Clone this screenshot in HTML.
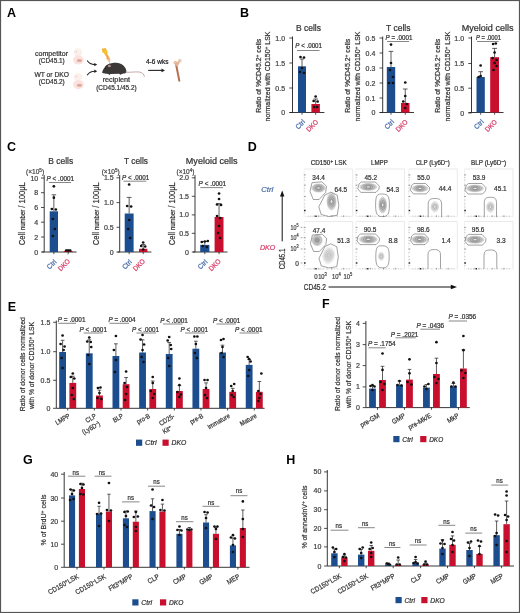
<!DOCTYPE html><html><head><meta charset="utf-8"><style>html,body{margin:0;padding:0;background:#fff;width:520px;height:613px;overflow:hidden}svg{display:block;font-family:"Liberation Sans",sans-serif;will-change:transform;filter:blur(0.3px)}</style></head><body><svg width="520" height="613" viewBox="0 0 520 613" font-family="&quot;Liberation Sans&quot;, sans-serif" fill="#333">
<rect x="0.00" y="0.00" width="520.00" height="613.00" fill="#fff"/>
<text x="7.00" y="17.40" font-size="12.5" font-weight="bold" fill="#000">A</text>
<text x="240.00" y="17.20" font-size="12.5" font-weight="bold" fill="#000">B</text>
<text x="7.00" y="150.80" font-size="12.5" font-weight="bold" fill="#000">C</text>
<text x="247.80" y="150.80" font-size="12.5" font-weight="bold" fill="#000">D</text>
<text x="7.70" y="311.10" font-size="12.5" font-weight="bold" fill="#000">E</text>
<text x="321.90" y="308.30" font-size="12.5" font-weight="bold" fill="#000">F</text>
<text x="23.00" y="463.80" font-size="12.5" font-weight="bold" fill="#000">G</text>
<text x="286.30" y="463.80" font-size="12.5" font-weight="bold" fill="#000">H</text>
<text x="51.50" y="56.40" font-size="7" text-anchor="middle" textLength="33.00" lengthAdjust="spacingAndGlyphs" stroke="#333" stroke-width="0.22">competitor</text>
<text x="51.70" y="63.20" font-size="7" text-anchor="middle" textLength="26.00" lengthAdjust="spacingAndGlyphs" stroke="#333" stroke-width="0.22">(CD45.1)</text>
<text x="51.70" y="77.40" font-size="7" text-anchor="middle" textLength="34.60" lengthAdjust="spacingAndGlyphs" stroke="#333" stroke-width="0.22">WT or DKO</text>
<text x="51.70" y="84.40" font-size="7" text-anchor="middle" textLength="26.00" lengthAdjust="spacingAndGlyphs" stroke="#333" stroke-width="0.22">(CD45.2)</text>
<text x="116.40" y="82.30" font-size="7" text-anchor="middle" textLength="27.50" lengthAdjust="spacingAndGlyphs" stroke="#333" stroke-width="0.22">recipient</text>
<text x="116.40" y="89.80" font-size="7" text-anchor="middle" textLength="40.50" lengthAdjust="spacingAndGlyphs" stroke="#333" stroke-width="0.22">(CD45.1/45.2)</text>
<text x="157.20" y="64.40" font-size="7" text-anchor="middle" textLength="22.40" lengthAdjust="spacingAndGlyphs" fill="#222" stroke="#222" stroke-width="0.22">4-6 wks</text>
<ellipse cx="77.8" cy="52.30" rx="4.4" ry="4.0" fill="#fcf0ec"/>
<ellipse cx="78.4" cy="59.90" rx="5.3" ry="4.6" fill="#fbe2de"/>
<ellipse cx="79.4" cy="60.60" rx="2.7" ry="1.5" fill="#e4a6a0"/>
<circle cx="76.3" cy="51.80" r="0.6" fill="#c9b8b4"/>
<ellipse cx="77.8" cy="77.00" rx="4.4" ry="4.0" fill="#fcf0ec"/>
<ellipse cx="78.4" cy="84.60" rx="5.3" ry="4.6" fill="#fbe2de"/>
<ellipse cx="79.4" cy="85.30" rx="2.7" ry="1.5" fill="#e4a6a0"/>
<circle cx="76.3" cy="76.50" r="0.6" fill="#c9b8b4"/>
<path d="M87.2 60.6 Q89.5 64.6 95.0 64.6" fill="none" stroke="#222" stroke-width="1.1"/>
<path d="M97.2 64.6 L94.3 62.9 L94.3 66.3 Z" fill="#222"/>
<path d="M87.2 75.2 Q89.5 71.2 95.0 71.2" fill="none" stroke="#222" stroke-width="1.1"/>
<path d="M97.2 71.2 L94.3 69.5 L94.3 72.9 Z" fill="#222"/>
<defs><linearGradient id="lg" x1="0" y1="0" x2="0.3" y2="1"><stop offset="0" stop-color="#f2a43a"/><stop offset="0.35" stop-color="#f7c52a"/><stop offset="0.7" stop-color="#f3a33a"/><stop offset="1" stop-color="#f4c0a8"/></linearGradient></defs>
<path d="M101.7 48.7 L105.7 48.0 L108.1 53.1 L107.0 53.6 L110.4 59.3 L109.9 63.5 L105.9 58.1 L106.9 57.6 L103.5 52.7 L102.7 53.0 Z" fill="url(#lg)"/>
<path d="M102.0 72.6 C102.8 70.0 103.6 68.5 104.6 67.4 C105.4 65.8 106.6 64.6 108.2 64.2 C110.0 63.4 112.5 62.8 116.5 62.8 C120.5 62.8 123.5 65.0 125.2 67.8 C126.3 69.6 126.6 71.4 126.2 72.6 C125.6 73.6 124.0 73.7 122.5 73.7 L120.2 74.8 L119.2 73.8 L110.5 73.9 L109.4 74.9 L108.3 73.9 C106.0 73.9 103.5 73.7 102.0 72.6 Z" fill="#3d3838"/>
<ellipse cx="109.4" cy="66.0" rx="1.4" ry="1.3" fill="#b89494"/>
<circle cx="105.6" cy="68.6" r="0.5" fill="#111"/>
<path d="M125.9 72.2 C130 72.6 134 71.6 139.2 72.0 C142.4 72.4 144.2 74.4 144.4 76.9" fill="none" stroke="#b99394" stroke-width="0.8"/>
<line x1="148.20" y1="70.40" x2="162.00" y2="70.40" stroke="#222" stroke-width="1.1"/>
<path d="M165.0 70.4 L161.5 68.6 L161.5 72.2 Z" fill="#222"/>
<path d="M176.0 64.0 L179.3 80.8" stroke="#b8704f" stroke-width="2.0" stroke-linecap="round"/>
<circle cx="175.3" cy="62.6" r="1.9" fill="#e9c7ab"/>
<circle cx="179.8" cy="60.6" r="1.9" fill="#edd0b6"/>
<path d="M174.5 63 L180.5 60.5 L178 66 L176 66 Z" fill="#dfb596"/>
<line x1="292.50" y1="36.50" x2="292.50" y2="112.50" stroke="#222" stroke-width="0.9"/>
<line x1="289.30" y1="38.00" x2="292.50" y2="38.00" stroke="#222" stroke-width="0.8"/>
<text x="285.10" y="40.52" font-size="7" text-anchor="end" fill="#444" stroke="#444" stroke-width="0.22">1.0</text>
<line x1="289.30" y1="63.00" x2="292.50" y2="63.00" stroke="#222" stroke-width="0.8"/>
<text x="285.10" y="65.52" font-size="7" text-anchor="end" fill="#444" stroke="#444" stroke-width="0.22">1.5</text>
<line x1="289.30" y1="88.00" x2="292.50" y2="88.00" stroke="#222" stroke-width="0.8"/>
<text x="285.10" y="90.52" font-size="7" text-anchor="end" fill="#444" stroke="#444" stroke-width="0.22">0.5</text>
<line x1="289.30" y1="112.50" x2="292.50" y2="112.50" stroke="#222" stroke-width="0.8"/>
<text x="285.10" y="115.02" font-size="7" text-anchor="end" fill="#444" stroke="#444" stroke-width="0.22">0</text>
<line x1="289.50" y1="112.50" x2="324.40" y2="112.50" stroke="#222" stroke-width="0.9"/>
<line x1="302.00" y1="112.50" x2="302.00" y2="114.70" stroke="#222" stroke-width="0.8"/>
<line x1="315.65" y1="112.50" x2="315.65" y2="114.70" stroke="#222" stroke-width="0.8"/>
<rect x="298.00" y="66.30" width="8.00" height="46.20" fill="#1c4d8e"/>
<line x1="302.00" y1="66.30" x2="302.00" y2="59.00" stroke="#2a2a2a" stroke-width="0.75"/>
<line x1="299.80" y1="59.00" x2="304.20" y2="59.00" stroke="#2a2a2a" stroke-width="0.75"/>
<circle cx="300.50" cy="57.00" r="1.35" fill="#111"/>
<circle cx="304.00" cy="57.50" r="1.35" fill="#111"/>
<circle cx="302.00" cy="68.00" r="1.35" fill="#111"/>
<circle cx="300.00" cy="72.00" r="1.35" fill="#111"/>
<circle cx="304.00" cy="73.00" r="1.35" fill="#111"/>
<rect x="311.40" y="104.00" width="8.50" height="8.50" fill="#c8102e"/>
<line x1="315.65" y1="104.00" x2="315.65" y2="99.00" stroke="#2a2a2a" stroke-width="0.75"/>
<line x1="313.31" y1="99.00" x2="317.99" y2="99.00" stroke="#2a2a2a" stroke-width="0.75"/>
<circle cx="315.65" cy="96.50" r="1.35" fill="#111"/>
<circle cx="313.65" cy="101.00" r="1.35" fill="#111"/>
<circle cx="317.65" cy="101.50" r="1.35" fill="#111"/>
<circle cx="314.15" cy="107.00" r="1.35" fill="#111"/>
<circle cx="317.15" cy="107.00" r="1.35" fill="#111"/>
<line x1="297.00" y1="50.50" x2="319.50" y2="50.50" stroke="#555" stroke-width="0.7"/>
<text x="295.30" y="48.30" font-size="6.3" textLength="26.70" lengthAdjust="spacingAndGlyphs" stroke="#333" stroke-width="0.22"><tspan font-style="italic">P</tspan> &lt; .0001</text>
<text x="308.50" y="30.90" font-size="8.5" text-anchor="middle" textLength="25.00" lengthAdjust="spacingAndGlyphs" stroke="#333" stroke-width="0.22">B cells</text>
<text x="261.40" y="75.80" font-size="7.8" text-anchor="middle" textLength="74.00" lengthAdjust="spacingAndGlyphs" stroke="#333" stroke-width="0.22" transform="rotate(-90 261.40 75.80)">Ratio of %CD45.2<tspan font-size="70%" baseline-shift="2.4">+</tspan> cells</text>
<text x="270.40" y="76.50" font-size="7.8" text-anchor="middle" textLength="90.00" lengthAdjust="spacingAndGlyphs" stroke="#333" stroke-width="0.22" transform="rotate(-90 270.40 76.50)">normalized with CD150<tspan font-size="70%" baseline-shift="2.4">+</tspan> LSK</text>
<text x="305.60" y="122.30" font-size="7" text-anchor="end" textLength="10.50" lengthAdjust="spacingAndGlyphs" fill="#4a6eaa" stroke="#4a6eaa" stroke-width="0.22" transform="rotate(-45 305.60 122.30)">Ctrl</text>
<text x="318.65" y="122.60" font-size="7" text-anchor="end" textLength="13.80" lengthAdjust="spacingAndGlyphs" fill="#d6426a" stroke="#d6426a" stroke-width="0.22" transform="rotate(-45 318.65 122.60)">DKO</text>
<line x1="382.70" y1="36.50" x2="382.70" y2="112.50" stroke="#222" stroke-width="0.9"/>
<line x1="379.50" y1="38.00" x2="382.70" y2="38.00" stroke="#222" stroke-width="0.8"/>
<text x="375.30" y="40.52" font-size="7" text-anchor="end" fill="#444" stroke="#444" stroke-width="0.22">0.5</text>
<line x1="379.50" y1="53.00" x2="382.70" y2="53.00" stroke="#222" stroke-width="0.8"/>
<text x="375.30" y="55.52" font-size="7" text-anchor="end" fill="#444" stroke="#444" stroke-width="0.22">0.4</text>
<line x1="379.50" y1="68.00" x2="382.70" y2="68.00" stroke="#222" stroke-width="0.8"/>
<text x="375.30" y="70.52" font-size="7" text-anchor="end" fill="#444" stroke="#444" stroke-width="0.22">0.3</text>
<line x1="379.50" y1="83.00" x2="382.70" y2="83.00" stroke="#222" stroke-width="0.8"/>
<text x="375.30" y="85.52" font-size="7" text-anchor="end" fill="#444" stroke="#444" stroke-width="0.22">0.2</text>
<line x1="379.50" y1="98.00" x2="382.70" y2="98.00" stroke="#222" stroke-width="0.8"/>
<text x="375.30" y="100.52" font-size="7" text-anchor="end" fill="#444" stroke="#444" stroke-width="0.22">0.1</text>
<line x1="379.50" y1="112.50" x2="382.70" y2="112.50" stroke="#222" stroke-width="0.8"/>
<text x="375.30" y="115.02" font-size="7" text-anchor="end" fill="#444" stroke="#444" stroke-width="0.22">0</text>
<line x1="379.70" y1="112.50" x2="414.00" y2="112.50" stroke="#222" stroke-width="0.9"/>
<line x1="391.00" y1="112.50" x2="391.00" y2="114.70" stroke="#222" stroke-width="0.8"/>
<line x1="405.25" y1="112.50" x2="405.25" y2="114.70" stroke="#222" stroke-width="0.8"/>
<rect x="386.80" y="67.00" width="8.40" height="45.50" fill="#1c4d8e"/>
<line x1="391.00" y1="67.00" x2="391.00" y2="51.40" stroke="#2a2a2a" stroke-width="0.75"/>
<line x1="388.69" y1="51.40" x2="393.31" y2="51.40" stroke="#2a2a2a" stroke-width="0.75"/>
<circle cx="391.00" cy="44.60" r="1.35" fill="#111"/>
<circle cx="391.00" cy="63.00" r="1.35" fill="#111"/>
<circle cx="390.00" cy="70.00" r="1.35" fill="#111"/>
<circle cx="393.00" cy="77.00" r="1.35" fill="#111"/>
<circle cx="389.00" cy="83.00" r="1.35" fill="#111"/>
<circle cx="393.00" cy="83.00" r="1.35" fill="#111"/>
<rect x="401.00" y="103.00" width="8.50" height="9.50" fill="#c8102e"/>
<line x1="405.25" y1="103.00" x2="405.25" y2="89.00" stroke="#2a2a2a" stroke-width="0.75"/>
<line x1="402.91" y1="89.00" x2="407.59" y2="89.00" stroke="#2a2a2a" stroke-width="0.75"/>
<circle cx="405.25" cy="82.50" r="1.35" fill="#111"/>
<circle cx="405.25" cy="96.00" r="1.35" fill="#111"/>
<circle cx="403.25" cy="101.50" r="1.35" fill="#111"/>
<circle cx="406.75" cy="104.00" r="1.35" fill="#111"/>
<circle cx="405.25" cy="108.00" r="1.35" fill="#111"/>
<line x1="387.00" y1="41.50" x2="409.00" y2="41.50" stroke="#555" stroke-width="0.7"/>
<text x="385.50" y="40.30" font-size="6.3" textLength="27.00" lengthAdjust="spacingAndGlyphs" stroke="#333" stroke-width="0.22"><tspan font-style="italic">P</tspan> = .0001</text>
<text x="398.30" y="30.90" font-size="8.5" text-anchor="middle" textLength="24.40" lengthAdjust="spacingAndGlyphs" stroke="#333" stroke-width="0.22">T cells</text>
<text x="350.40" y="75.80" font-size="7.8" text-anchor="middle" textLength="74.00" lengthAdjust="spacingAndGlyphs" stroke="#333" stroke-width="0.22" transform="rotate(-90 350.40 75.80)">Ratio of %CD45.2<tspan font-size="70%" baseline-shift="2.4">+</tspan> cells</text>
<text x="359.50" y="76.50" font-size="7.8" text-anchor="middle" textLength="90.00" lengthAdjust="spacingAndGlyphs" stroke="#333" stroke-width="0.22" transform="rotate(-90 359.50 76.50)">normalized with CD150<tspan font-size="70%" baseline-shift="2.4">+</tspan> LSK</text>
<text x="394.60" y="122.30" font-size="7" text-anchor="end" textLength="10.50" lengthAdjust="spacingAndGlyphs" fill="#4a6eaa" stroke="#4a6eaa" stroke-width="0.22" transform="rotate(-45 394.60 122.30)">Ctrl</text>
<text x="408.25" y="122.60" font-size="7" text-anchor="end" textLength="13.80" lengthAdjust="spacingAndGlyphs" fill="#d6426a" stroke="#d6426a" stroke-width="0.22" transform="rotate(-45 408.25 122.60)">DKO</text>
<line x1="471.50" y1="36.50" x2="471.50" y2="112.50" stroke="#222" stroke-width="0.9"/>
<line x1="468.30" y1="38.00" x2="471.50" y2="38.00" stroke="#222" stroke-width="0.8"/>
<text x="464.10" y="40.52" font-size="7" text-anchor="end" fill="#444" stroke="#444" stroke-width="0.22">1.0</text>
<line x1="468.30" y1="63.50" x2="471.50" y2="63.50" stroke="#222" stroke-width="0.8"/>
<text x="464.10" y="66.02" font-size="7" text-anchor="end" fill="#444" stroke="#444" stroke-width="0.22">1.5</text>
<line x1="468.30" y1="88.20" x2="471.50" y2="88.20" stroke="#222" stroke-width="0.8"/>
<text x="464.10" y="90.72" font-size="7" text-anchor="end" fill="#444" stroke="#444" stroke-width="0.22">0.5</text>
<line x1="468.30" y1="113.00" x2="471.50" y2="113.00" stroke="#222" stroke-width="0.8"/>
<text x="464.10" y="115.52" font-size="7" text-anchor="end" fill="#444" stroke="#444" stroke-width="0.22">0</text>
<line x1="468.50" y1="112.50" x2="503.50" y2="112.50" stroke="#222" stroke-width="0.9"/>
<line x1="480.65" y1="112.50" x2="480.65" y2="114.70" stroke="#222" stroke-width="0.8"/>
<line x1="494.60" y1="112.50" x2="494.60" y2="114.70" stroke="#222" stroke-width="0.8"/>
<rect x="476.50" y="77.00" width="8.30" height="35.50" fill="#1c4d8e"/>
<line x1="480.65" y1="77.00" x2="480.65" y2="71.70" stroke="#2a2a2a" stroke-width="0.75"/>
<line x1="478.37" y1="71.70" x2="482.93" y2="71.70" stroke="#2a2a2a" stroke-width="0.75"/>
<circle cx="480.65" cy="65.50" r="1.35" fill="#111"/>
<circle cx="480.65" cy="76.00" r="1.35" fill="#111"/>
<circle cx="478.65" cy="77.00" r="1.35" fill="#111"/>
<rect x="490.20" y="57.20" width="8.80" height="55.30" fill="#c8102e"/>
<line x1="494.60" y1="57.20" x2="494.60" y2="48.40" stroke="#2a2a2a" stroke-width="0.75"/>
<line x1="492.18" y1="48.40" x2="497.02" y2="48.40" stroke="#2a2a2a" stroke-width="0.75"/>
<circle cx="493.10" cy="44.00" r="1.35" fill="#111"/>
<circle cx="495.80" cy="43.50" r="1.35" fill="#111"/>
<circle cx="494.60" cy="52.50" r="1.35" fill="#111"/>
<circle cx="492.60" cy="58.00" r="1.35" fill="#111"/>
<circle cx="496.60" cy="60.00" r="1.35" fill="#111"/>
<circle cx="494.60" cy="63.00" r="1.35" fill="#111"/>
<circle cx="493.60" cy="70.00" r="1.35" fill="#111"/>
<circle cx="496.60" cy="66.00" r="1.35" fill="#111"/>
<line x1="477.00" y1="41.50" x2="498.60" y2="41.50" stroke="#555" stroke-width="0.7"/>
<text x="476.00" y="40.30" font-size="6.3" textLength="25.00" lengthAdjust="spacingAndGlyphs" stroke="#333" stroke-width="0.22"><tspan font-style="italic">P</tspan> = .0001</text>
<text x="487.60" y="30.90" font-size="8.5" text-anchor="middle" textLength="51.70" lengthAdjust="spacingAndGlyphs" stroke="#333" stroke-width="0.22">Myeloid cells</text>
<text x="440.40" y="75.80" font-size="7.8" text-anchor="middle" textLength="74.00" lengthAdjust="spacingAndGlyphs" stroke="#333" stroke-width="0.22" transform="rotate(-90 440.40 75.80)">Ratio of %CD45.2<tspan font-size="70%" baseline-shift="2.4">+</tspan> cells</text>
<text x="449.50" y="76.50" font-size="7.8" text-anchor="middle" textLength="90.00" lengthAdjust="spacingAndGlyphs" stroke="#333" stroke-width="0.22" transform="rotate(-90 449.50 76.50)">normalized with CD150<tspan font-size="70%" baseline-shift="2.4">+</tspan> LSK</text>
<text x="484.25" y="122.30" font-size="7" text-anchor="end" textLength="10.50" lengthAdjust="spacingAndGlyphs" fill="#4a6eaa" stroke="#4a6eaa" stroke-width="0.22" transform="rotate(-45 484.25 122.30)">Ctrl</text>
<text x="497.60" y="122.60" font-size="7" text-anchor="end" textLength="13.80" lengthAdjust="spacingAndGlyphs" fill="#d6426a" stroke="#d6426a" stroke-width="0.22" transform="rotate(-45 497.60 122.60)">DKO</text>
<line x1="44.20" y1="175.10" x2="44.20" y2="252.00" stroke="#222" stroke-width="0.9"/>
<line x1="41.00" y1="178.00" x2="44.20" y2="178.00" stroke="#222" stroke-width="0.8"/>
<text x="38.20" y="180.52" font-size="7" text-anchor="end" fill="#444" stroke="#444" stroke-width="0.22">10</text>
<line x1="41.00" y1="192.70" x2="44.20" y2="192.70" stroke="#222" stroke-width="0.8"/>
<text x="38.20" y="195.22" font-size="7" text-anchor="end" fill="#444" stroke="#444" stroke-width="0.22">8</text>
<line x1="41.00" y1="207.50" x2="44.20" y2="207.50" stroke="#222" stroke-width="0.8"/>
<text x="38.20" y="210.02" font-size="7" text-anchor="end" fill="#444" stroke="#444" stroke-width="0.22">6</text>
<line x1="41.00" y1="222.20" x2="44.20" y2="222.20" stroke="#222" stroke-width="0.8"/>
<text x="38.20" y="224.72" font-size="7" text-anchor="end" fill="#444" stroke="#444" stroke-width="0.22">4</text>
<line x1="41.00" y1="237.00" x2="44.20" y2="237.00" stroke="#222" stroke-width="0.8"/>
<text x="38.20" y="239.52" font-size="7" text-anchor="end" fill="#444" stroke="#444" stroke-width="0.22">2</text>
<line x1="41.00" y1="252.00" x2="44.20" y2="252.00" stroke="#222" stroke-width="0.8"/>
<text x="38.20" y="254.52" font-size="7" text-anchor="end" fill="#444" stroke="#444" stroke-width="0.22">0</text>
<line x1="42.20" y1="252.00" x2="76.60" y2="252.00" stroke="#222" stroke-width="0.9"/>
<line x1="53.85" y1="252.00" x2="53.85" y2="254.20" stroke="#222" stroke-width="0.8"/>
<line x1="68.20" y1="252.00" x2="68.20" y2="254.20" stroke="#222" stroke-width="0.8"/>
<rect x="49.70" y="211.30" width="8.30" height="40.70" fill="#1c4d8e"/>
<line x1="53.85" y1="211.30" x2="53.85" y2="194.80" stroke="#2a2a2a" stroke-width="0.75"/>
<line x1="51.57" y1="194.80" x2="56.13" y2="194.80" stroke="#2a2a2a" stroke-width="0.75"/>
<circle cx="53.85" cy="186.30" r="1.35" fill="#111"/>
<circle cx="53.85" cy="197.70" r="1.35" fill="#111"/>
<circle cx="51.85" cy="209.00" r="1.35" fill="#111"/>
<circle cx="55.85" cy="209.50" r="1.35" fill="#111"/>
<circle cx="52.85" cy="219.00" r="1.35" fill="#111"/>
<circle cx="54.85" cy="229.00" r="1.35" fill="#111"/>
<circle cx="52.85" cy="236.00" r="1.35" fill="#111"/>
<rect x="63.80" y="251.00" width="8.80" height="1.00" fill="#c8102e"/>
<line x1="68.20" y1="251.00" x2="68.20" y2="250.00" stroke="#2a2a2a" stroke-width="0.75"/>
<line x1="65.78" y1="250.00" x2="70.62" y2="250.00" stroke="#2a2a2a" stroke-width="0.75"/>
<circle cx="66.20" cy="250.50" r="1.35" fill="#111"/>
<circle cx="68.20" cy="250.50" r="1.35" fill="#111"/>
<circle cx="70.20" cy="250.50" r="1.35" fill="#111"/>
<line x1="48.90" y1="182.50" x2="71.10" y2="182.50" stroke="#555" stroke-width="0.7"/>
<text x="46.60" y="181.40" font-size="6.3" textLength="27.50" lengthAdjust="spacingAndGlyphs" stroke="#333" stroke-width="0.22"><tspan font-style="italic">P</tspan> &lt; .0001</text>
<text x="60.70" y="163.70" font-size="8.5" text-anchor="middle" textLength="24.80" lengthAdjust="spacingAndGlyphs" stroke="#333" stroke-width="0.22">B cells</text>
<text x="35.10" y="174.00" font-size="7" text-anchor="middle" textLength="18.00" lengthAdjust="spacingAndGlyphs" fill="#444" stroke="#444" stroke-width="0.22">(×10<tspan font-size="70%" baseline-shift="2.4">5</tspan>)</text>
<text x="25.30" y="213.70" font-size="8.4" text-anchor="middle" textLength="63.00" lengthAdjust="spacingAndGlyphs" stroke="#333" stroke-width="0.22" transform="rotate(-90 25.30 213.70)">Cell <tspan font-size="6.6">number</tspan> / 100μL</text>
<text x="57.05" y="262.40" font-size="7" text-anchor="end" textLength="10.50" lengthAdjust="spacingAndGlyphs" fill="#4a6eaa" stroke="#4a6eaa" stroke-width="0.22" transform="rotate(-45 57.05 262.40)">Ctrl</text>
<text x="70.50" y="261.80" font-size="7" text-anchor="end" textLength="13.80" lengthAdjust="spacingAndGlyphs" fill="#d6426a" stroke="#d6426a" stroke-width="0.22" transform="rotate(-45 70.50 261.80)">DKO</text>
<line x1="119.70" y1="175.10" x2="119.70" y2="252.00" stroke="#222" stroke-width="0.9"/>
<line x1="116.50" y1="177.80" x2="119.70" y2="177.80" stroke="#222" stroke-width="0.8"/>
<text x="113.70" y="180.32" font-size="7" text-anchor="end" fill="#444" stroke="#444" stroke-width="0.22">1.5</text>
<line x1="116.50" y1="202.60" x2="119.70" y2="202.60" stroke="#222" stroke-width="0.8"/>
<text x="113.70" y="205.12" font-size="7" text-anchor="end" fill="#444" stroke="#444" stroke-width="0.22">1.0</text>
<line x1="116.50" y1="227.30" x2="119.70" y2="227.30" stroke="#222" stroke-width="0.8"/>
<text x="113.70" y="229.82" font-size="7" text-anchor="end" fill="#444" stroke="#444" stroke-width="0.22">0.5</text>
<line x1="116.50" y1="252.00" x2="119.70" y2="252.00" stroke="#222" stroke-width="0.8"/>
<text x="113.70" y="254.52" font-size="7" text-anchor="end" fill="#444" stroke="#444" stroke-width="0.22">0</text>
<line x1="117.70" y1="252.00" x2="151.40" y2="252.00" stroke="#222" stroke-width="0.9"/>
<line x1="129.15" y1="252.00" x2="129.15" y2="254.20" stroke="#222" stroke-width="0.8"/>
<line x1="143.20" y1="252.00" x2="143.20" y2="254.20" stroke="#222" stroke-width="0.8"/>
<rect x="124.70" y="213.50" width="8.90" height="38.50" fill="#1c4d8e"/>
<line x1="129.15" y1="213.50" x2="129.15" y2="197.40" stroke="#2a2a2a" stroke-width="0.75"/>
<line x1="126.70" y1="197.40" x2="131.60" y2="197.40" stroke="#2a2a2a" stroke-width="0.75"/>
<circle cx="129.15" cy="184.50" r="1.35" fill="#111"/>
<circle cx="127.15" cy="206.00" r="1.35" fill="#111"/>
<circle cx="131.15" cy="206.50" r="1.35" fill="#111"/>
<circle cx="129.15" cy="220.00" r="1.35" fill="#111"/>
<circle cx="128.15" cy="229.00" r="1.35" fill="#111"/>
<circle cx="130.15" cy="238.00" r="1.35" fill="#111"/>
<rect x="139.00" y="248.80" width="8.40" height="3.20" fill="#c8102e"/>
<line x1="143.20" y1="248.80" x2="143.20" y2="244.50" stroke="#2a2a2a" stroke-width="0.75"/>
<line x1="140.89" y1="244.50" x2="145.51" y2="244.50" stroke="#2a2a2a" stroke-width="0.75"/>
<circle cx="143.20" cy="242.50" r="1.35" fill="#111"/>
<circle cx="141.20" cy="246.00" r="1.35" fill="#111"/>
<circle cx="145.20" cy="246.50" r="1.35" fill="#111"/>
<circle cx="143.20" cy="249.50" r="1.35" fill="#111"/>
<line x1="123.40" y1="181.20" x2="146.30" y2="181.20" stroke="#555" stroke-width="0.7"/>
<text x="122.00" y="179.80" font-size="6.3" textLength="27.20" lengthAdjust="spacingAndGlyphs" stroke="#333" stroke-width="0.22"><tspan font-style="italic">P</tspan> &lt; .0001</text>
<text x="136.00" y="163.70" font-size="8.5" text-anchor="middle" textLength="24.00" lengthAdjust="spacingAndGlyphs" stroke="#333" stroke-width="0.22">T cells</text>
<text x="110.70" y="174.00" font-size="7" text-anchor="middle" textLength="18.00" lengthAdjust="spacingAndGlyphs" fill="#444" stroke="#444" stroke-width="0.22">(×10<tspan font-size="70%" baseline-shift="2.4">5</tspan>)</text>
<text x="99.00" y="213.70" font-size="8.4" text-anchor="middle" textLength="63.00" lengthAdjust="spacingAndGlyphs" stroke="#333" stroke-width="0.22" transform="rotate(-90 99.00 213.70)">Cell <tspan font-size="6.6">number</tspan> / 100μL</text>
<text x="132.35" y="262.40" font-size="7" text-anchor="end" textLength="10.50" lengthAdjust="spacingAndGlyphs" fill="#4a6eaa" stroke="#4a6eaa" stroke-width="0.22" transform="rotate(-45 132.35 262.40)">Ctrl</text>
<text x="145.50" y="261.80" font-size="7" text-anchor="end" textLength="13.80" lengthAdjust="spacingAndGlyphs" fill="#d6426a" stroke="#d6426a" stroke-width="0.22" transform="rotate(-45 145.50 261.80)">DKO</text>
<line x1="195.00" y1="175.10" x2="195.00" y2="252.00" stroke="#222" stroke-width="0.9"/>
<line x1="191.80" y1="177.80" x2="195.00" y2="177.80" stroke="#222" stroke-width="0.8"/>
<text x="189.00" y="180.32" font-size="7" text-anchor="end" fill="#444" stroke="#444" stroke-width="0.22">2.0</text>
<line x1="191.80" y1="196.30" x2="195.00" y2="196.30" stroke="#222" stroke-width="0.8"/>
<text x="189.00" y="198.82" font-size="7" text-anchor="end" fill="#444" stroke="#444" stroke-width="0.22">1.5</text>
<line x1="191.80" y1="214.90" x2="195.00" y2="214.90" stroke="#222" stroke-width="0.8"/>
<text x="189.00" y="217.42" font-size="7" text-anchor="end" fill="#444" stroke="#444" stroke-width="0.22">1.0</text>
<line x1="191.80" y1="233.30" x2="195.00" y2="233.30" stroke="#222" stroke-width="0.8"/>
<text x="189.00" y="235.82" font-size="7" text-anchor="end" fill="#444" stroke="#444" stroke-width="0.22">0.5</text>
<line x1="191.80" y1="252.00" x2="195.00" y2="252.00" stroke="#222" stroke-width="0.8"/>
<text x="189.00" y="254.52" font-size="7" text-anchor="end" fill="#444" stroke="#444" stroke-width="0.22">0</text>
<line x1="193.00" y1="252.00" x2="227.50" y2="252.00" stroke="#222" stroke-width="0.9"/>
<line x1="204.80" y1="252.00" x2="204.80" y2="254.20" stroke="#222" stroke-width="0.8"/>
<line x1="219.05" y1="252.00" x2="219.05" y2="254.20" stroke="#222" stroke-width="0.8"/>
<rect x="200.20" y="244.90" width="9.20" height="7.10" fill="#1c4d8e"/>
<line x1="204.80" y1="244.90" x2="204.80" y2="241.50" stroke="#2a2a2a" stroke-width="0.75"/>
<line x1="202.27" y1="241.50" x2="207.33" y2="241.50" stroke="#2a2a2a" stroke-width="0.75"/>
<circle cx="201.80" cy="242.00" r="1.35" fill="#111"/>
<circle cx="204.80" cy="241.50" r="1.35" fill="#111"/>
<circle cx="207.80" cy="241.00" r="1.35" fill="#111"/>
<circle cx="202.80" cy="246.00" r="1.35" fill="#111"/>
<circle cx="206.80" cy="247.00" r="1.35" fill="#111"/>
<rect x="214.60" y="217.00" width="8.90" height="35.00" fill="#c8102e"/>
<line x1="219.05" y1="217.00" x2="219.05" y2="203.60" stroke="#2a2a2a" stroke-width="0.75"/>
<line x1="216.60" y1="203.60" x2="221.50" y2="203.60" stroke="#2a2a2a" stroke-width="0.75"/>
<circle cx="219.05" cy="193.50" r="1.35" fill="#111"/>
<circle cx="219.05" cy="199.00" r="1.35" fill="#111"/>
<circle cx="217.05" cy="204.50" r="1.35" fill="#111"/>
<circle cx="221.05" cy="205.00" r="1.35" fill="#111"/>
<circle cx="217.05" cy="216.00" r="1.35" fill="#111"/>
<circle cx="220.05" cy="218.00" r="1.35" fill="#111"/>
<circle cx="219.05" cy="226.00" r="1.35" fill="#111"/>
<circle cx="218.05" cy="233.00" r="1.35" fill="#111"/>
<circle cx="220.05" cy="238.00" r="1.35" fill="#111"/>
<line x1="200.30" y1="187.60" x2="223.10" y2="187.60" stroke="#555" stroke-width="0.7"/>
<text x="198.60" y="186.40" font-size="6.3" textLength="27.60" lengthAdjust="spacingAndGlyphs" stroke="#333" stroke-width="0.22"><tspan font-style="italic">P</tspan> &lt; .0001</text>
<text x="211.70" y="163.70" font-size="8.5" text-anchor="middle" textLength="51.70" lengthAdjust="spacingAndGlyphs" stroke="#333" stroke-width="0.22">Myeloid cells</text>
<text x="185.50" y="174.00" font-size="7" text-anchor="middle" textLength="18.00" lengthAdjust="spacingAndGlyphs" fill="#444" stroke="#444" stroke-width="0.22">(×10<tspan font-size="70%" baseline-shift="2.4">4</tspan>)</text>
<text x="175.40" y="213.70" font-size="8.4" text-anchor="middle" textLength="63.00" lengthAdjust="spacingAndGlyphs" stroke="#333" stroke-width="0.22" transform="rotate(-90 175.40 213.70)">Cell <tspan font-size="6.6">number</tspan> / 100μL</text>
<text x="208.00" y="262.40" font-size="7" text-anchor="end" textLength="10.50" lengthAdjust="spacingAndGlyphs" fill="#4a6eaa" stroke="#4a6eaa" stroke-width="0.22" transform="rotate(-45 208.00 262.40)">Ctrl</text>
<text x="221.35" y="261.80" font-size="7" text-anchor="end" textLength="13.80" lengthAdjust="spacingAndGlyphs" fill="#d6426a" stroke="#d6426a" stroke-width="0.22" transform="rotate(-45 221.35 261.80)">DKO</text>
<defs><radialGradient id="gd"><stop offset="0" stop-color="#8c8c8c"/><stop offset="0.4" stop-color="#a6a6a6"/><stop offset="0.8" stop-color="#d4d4d4"/><stop offset="1" stop-color="#fff" stop-opacity="0"/></radialGradient><radialGradient id="gm"><stop offset="0" stop-color="#a0a0a0"/><stop offset="0.4" stop-color="#bababa"/><stop offset="0.8" stop-color="#e0e0e0"/><stop offset="1" stop-color="#fff" stop-opacity="0"/></radialGradient><radialGradient id="gl"><stop offset="0" stop-color="#c4c4c4"/><stop offset="0.5" stop-color="#dcdcdc"/><stop offset="1" stop-color="#fff" stop-opacity="0"/></radialGradient></defs>
<path d="M304.20 169.00 H352.70 V216.50" fill="none" stroke="#dcdcdc" stroke-width="0.6"/>
<path d="M304.20 169.00 V216.50 H352.70" fill="none" stroke="#e4e4e4" stroke-width="0.5"/>
<line x1="303.90" y1="174.90" x2="305.40" y2="174.90" stroke="#aaa" stroke-width="0.5"/>
<line x1="303.90" y1="177.50" x2="305.40" y2="177.50" stroke="#aaa" stroke-width="0.5"/>
<line x1="303.90" y1="180.00" x2="305.40" y2="180.00" stroke="#aaa" stroke-width="0.5"/>
<line x1="303.90" y1="185.20" x2="305.40" y2="185.20" stroke="#aaa" stroke-width="0.5"/>
<line x1="303.90" y1="188.00" x2="305.40" y2="188.00" stroke="#aaa" stroke-width="0.5"/>
<line x1="303.90" y1="191.00" x2="305.40" y2="191.00" stroke="#aaa" stroke-width="0.5"/>
<line x1="303.90" y1="196.50" x2="305.40" y2="196.50" stroke="#aaa" stroke-width="0.5"/>
<line x1="303.90" y1="200.00" x2="305.40" y2="200.00" stroke="#aaa" stroke-width="0.5"/>
<line x1="303.90" y1="204.00" x2="305.40" y2="204.00" stroke="#aaa" stroke-width="0.5"/>
<line x1="303.90" y1="207.00" x2="305.40" y2="207.00" stroke="#aaa" stroke-width="0.5"/>
<line x1="303.90" y1="213.00" x2="305.40" y2="213.00" stroke="#aaa" stroke-width="0.5"/>
<line x1="303.90" y1="174.90" x2="305.80" y2="174.90" stroke="#777" stroke-width="0.6"/>
<line x1="303.90" y1="185.20" x2="305.80" y2="185.20" stroke="#777" stroke-width="0.6"/>
<line x1="303.90" y1="196.50" x2="305.80" y2="196.50" stroke="#777" stroke-width="0.6"/>
<line x1="304.00" y1="210.50" x2="305.60" y2="210.50" stroke="#222" stroke-width="1.4"/>
<line x1="308.20" y1="216.90" x2="308.20" y2="215.50" stroke="#aaa" stroke-width="0.5"/>
<line x1="310.70" y1="216.90" x2="310.70" y2="215.50" stroke="#aaa" stroke-width="0.5"/>
<line x1="313.20" y1="216.90" x2="313.20" y2="215.50" stroke="#aaa" stroke-width="0.5"/>
<line x1="318.20" y1="216.90" x2="318.20" y2="215.50" stroke="#aaa" stroke-width="0.5"/>
<line x1="320.70" y1="216.90" x2="320.70" y2="215.50" stroke="#aaa" stroke-width="0.5"/>
<line x1="323.20" y1="216.90" x2="323.20" y2="215.50" stroke="#aaa" stroke-width="0.5"/>
<line x1="327.20" y1="216.90" x2="327.20" y2="215.50" stroke="#aaa" stroke-width="0.5"/>
<line x1="331.70" y1="216.90" x2="331.70" y2="215.50" stroke="#aaa" stroke-width="0.5"/>
<line x1="334.20" y1="216.90" x2="334.20" y2="215.50" stroke="#aaa" stroke-width="0.5"/>
<line x1="337.20" y1="216.90" x2="337.20" y2="215.50" stroke="#aaa" stroke-width="0.5"/>
<line x1="341.70" y1="216.90" x2="341.70" y2="215.50" stroke="#aaa" stroke-width="0.5"/>
<line x1="344.20" y1="216.90" x2="344.20" y2="215.50" stroke="#aaa" stroke-width="0.5"/>
<line x1="346.70" y1="216.90" x2="346.70" y2="215.50" stroke="#aaa" stroke-width="0.5"/>
<line x1="349.20" y1="216.90" x2="349.20" y2="215.50" stroke="#aaa" stroke-width="0.5"/>
<line x1="314.60" y1="217.00" x2="314.60" y2="215.30" stroke="#777" stroke-width="0.6"/>
<line x1="318.80" y1="217.00" x2="318.80" y2="215.30" stroke="#777" stroke-width="0.6"/>
<line x1="331.80" y1="217.00" x2="331.80" y2="215.30" stroke="#777" stroke-width="0.6"/>
<line x1="343.50" y1="217.00" x2="343.50" y2="215.30" stroke="#777" stroke-width="0.6"/>
<line x1="316.00" y1="217.00" x2="316.00" y2="215.50" stroke="#222" stroke-width="1.4"/>
<path d="M304.20 221.50 H352.70 V269.00" fill="none" stroke="#dcdcdc" stroke-width="0.6"/>
<path d="M304.20 221.50 V269.00 H352.70" fill="none" stroke="#e4e4e4" stroke-width="0.5"/>
<line x1="303.90" y1="227.40" x2="305.40" y2="227.40" stroke="#aaa" stroke-width="0.5"/>
<line x1="303.90" y1="230.00" x2="305.40" y2="230.00" stroke="#aaa" stroke-width="0.5"/>
<line x1="303.90" y1="232.50" x2="305.40" y2="232.50" stroke="#aaa" stroke-width="0.5"/>
<line x1="303.90" y1="237.70" x2="305.40" y2="237.70" stroke="#aaa" stroke-width="0.5"/>
<line x1="303.90" y1="240.50" x2="305.40" y2="240.50" stroke="#aaa" stroke-width="0.5"/>
<line x1="303.90" y1="243.50" x2="305.40" y2="243.50" stroke="#aaa" stroke-width="0.5"/>
<line x1="303.90" y1="249.00" x2="305.40" y2="249.00" stroke="#aaa" stroke-width="0.5"/>
<line x1="303.90" y1="252.50" x2="305.40" y2="252.50" stroke="#aaa" stroke-width="0.5"/>
<line x1="303.90" y1="256.50" x2="305.40" y2="256.50" stroke="#aaa" stroke-width="0.5"/>
<line x1="303.90" y1="259.50" x2="305.40" y2="259.50" stroke="#aaa" stroke-width="0.5"/>
<line x1="303.90" y1="265.50" x2="305.40" y2="265.50" stroke="#aaa" stroke-width="0.5"/>
<line x1="303.90" y1="227.40" x2="305.80" y2="227.40" stroke="#777" stroke-width="0.6"/>
<line x1="303.90" y1="237.70" x2="305.80" y2="237.70" stroke="#777" stroke-width="0.6"/>
<line x1="303.90" y1="249.00" x2="305.80" y2="249.00" stroke="#777" stroke-width="0.6"/>
<line x1="304.00" y1="263.00" x2="305.60" y2="263.00" stroke="#222" stroke-width="1.4"/>
<line x1="308.20" y1="269.40" x2="308.20" y2="268.00" stroke="#aaa" stroke-width="0.5"/>
<line x1="310.70" y1="269.40" x2="310.70" y2="268.00" stroke="#aaa" stroke-width="0.5"/>
<line x1="313.20" y1="269.40" x2="313.20" y2="268.00" stroke="#aaa" stroke-width="0.5"/>
<line x1="318.20" y1="269.40" x2="318.20" y2="268.00" stroke="#aaa" stroke-width="0.5"/>
<line x1="320.70" y1="269.40" x2="320.70" y2="268.00" stroke="#aaa" stroke-width="0.5"/>
<line x1="323.20" y1="269.40" x2="323.20" y2="268.00" stroke="#aaa" stroke-width="0.5"/>
<line x1="327.20" y1="269.40" x2="327.20" y2="268.00" stroke="#aaa" stroke-width="0.5"/>
<line x1="331.70" y1="269.40" x2="331.70" y2="268.00" stroke="#aaa" stroke-width="0.5"/>
<line x1="334.20" y1="269.40" x2="334.20" y2="268.00" stroke="#aaa" stroke-width="0.5"/>
<line x1="337.20" y1="269.40" x2="337.20" y2="268.00" stroke="#aaa" stroke-width="0.5"/>
<line x1="341.70" y1="269.40" x2="341.70" y2="268.00" stroke="#aaa" stroke-width="0.5"/>
<line x1="344.20" y1="269.40" x2="344.20" y2="268.00" stroke="#aaa" stroke-width="0.5"/>
<line x1="346.70" y1="269.40" x2="346.70" y2="268.00" stroke="#aaa" stroke-width="0.5"/>
<line x1="349.20" y1="269.40" x2="349.20" y2="268.00" stroke="#aaa" stroke-width="0.5"/>
<line x1="314.60" y1="269.50" x2="314.60" y2="267.80" stroke="#777" stroke-width="0.6"/>
<line x1="318.80" y1="269.50" x2="318.80" y2="267.80" stroke="#777" stroke-width="0.6"/>
<line x1="331.80" y1="269.50" x2="331.80" y2="267.80" stroke="#777" stroke-width="0.6"/>
<line x1="343.50" y1="269.50" x2="343.50" y2="267.80" stroke="#777" stroke-width="0.6"/>
<line x1="316.00" y1="269.50" x2="316.00" y2="268.00" stroke="#222" stroke-width="1.4"/>
<path d="M356.00 169.00 H404.50 V216.50" fill="none" stroke="#dcdcdc" stroke-width="0.6"/>
<path d="M356.00 169.00 V216.50 H404.50" fill="none" stroke="#e4e4e4" stroke-width="0.5"/>
<line x1="355.70" y1="174.90" x2="357.20" y2="174.90" stroke="#aaa" stroke-width="0.5"/>
<line x1="355.70" y1="177.50" x2="357.20" y2="177.50" stroke="#aaa" stroke-width="0.5"/>
<line x1="355.70" y1="180.00" x2="357.20" y2="180.00" stroke="#aaa" stroke-width="0.5"/>
<line x1="355.70" y1="185.20" x2="357.20" y2="185.20" stroke="#aaa" stroke-width="0.5"/>
<line x1="355.70" y1="188.00" x2="357.20" y2="188.00" stroke="#aaa" stroke-width="0.5"/>
<line x1="355.70" y1="191.00" x2="357.20" y2="191.00" stroke="#aaa" stroke-width="0.5"/>
<line x1="355.70" y1="196.50" x2="357.20" y2="196.50" stroke="#aaa" stroke-width="0.5"/>
<line x1="355.70" y1="200.00" x2="357.20" y2="200.00" stroke="#aaa" stroke-width="0.5"/>
<line x1="355.70" y1="204.00" x2="357.20" y2="204.00" stroke="#aaa" stroke-width="0.5"/>
<line x1="355.70" y1="207.00" x2="357.20" y2="207.00" stroke="#aaa" stroke-width="0.5"/>
<line x1="355.70" y1="213.00" x2="357.20" y2="213.00" stroke="#aaa" stroke-width="0.5"/>
<line x1="355.70" y1="174.90" x2="357.60" y2="174.90" stroke="#777" stroke-width="0.6"/>
<line x1="355.70" y1="185.20" x2="357.60" y2="185.20" stroke="#777" stroke-width="0.6"/>
<line x1="355.70" y1="196.50" x2="357.60" y2="196.50" stroke="#777" stroke-width="0.6"/>
<line x1="355.80" y1="210.50" x2="357.40" y2="210.50" stroke="#222" stroke-width="1.4"/>
<line x1="360.00" y1="216.90" x2="360.00" y2="215.50" stroke="#aaa" stroke-width="0.5"/>
<line x1="362.50" y1="216.90" x2="362.50" y2="215.50" stroke="#aaa" stroke-width="0.5"/>
<line x1="365.00" y1="216.90" x2="365.00" y2="215.50" stroke="#aaa" stroke-width="0.5"/>
<line x1="370.00" y1="216.90" x2="370.00" y2="215.50" stroke="#aaa" stroke-width="0.5"/>
<line x1="372.50" y1="216.90" x2="372.50" y2="215.50" stroke="#aaa" stroke-width="0.5"/>
<line x1="375.00" y1="216.90" x2="375.00" y2="215.50" stroke="#aaa" stroke-width="0.5"/>
<line x1="379.00" y1="216.90" x2="379.00" y2="215.50" stroke="#aaa" stroke-width="0.5"/>
<line x1="383.50" y1="216.90" x2="383.50" y2="215.50" stroke="#aaa" stroke-width="0.5"/>
<line x1="386.00" y1="216.90" x2="386.00" y2="215.50" stroke="#aaa" stroke-width="0.5"/>
<line x1="389.00" y1="216.90" x2="389.00" y2="215.50" stroke="#aaa" stroke-width="0.5"/>
<line x1="393.50" y1="216.90" x2="393.50" y2="215.50" stroke="#aaa" stroke-width="0.5"/>
<line x1="396.00" y1="216.90" x2="396.00" y2="215.50" stroke="#aaa" stroke-width="0.5"/>
<line x1="398.50" y1="216.90" x2="398.50" y2="215.50" stroke="#aaa" stroke-width="0.5"/>
<line x1="401.00" y1="216.90" x2="401.00" y2="215.50" stroke="#aaa" stroke-width="0.5"/>
<line x1="366.40" y1="217.00" x2="366.40" y2="215.30" stroke="#777" stroke-width="0.6"/>
<line x1="370.60" y1="217.00" x2="370.60" y2="215.30" stroke="#777" stroke-width="0.6"/>
<line x1="383.60" y1="217.00" x2="383.60" y2="215.30" stroke="#777" stroke-width="0.6"/>
<line x1="395.30" y1="217.00" x2="395.30" y2="215.30" stroke="#777" stroke-width="0.6"/>
<line x1="367.80" y1="217.00" x2="367.80" y2="215.50" stroke="#222" stroke-width="1.4"/>
<path d="M356.00 221.50 H404.50 V269.00" fill="none" stroke="#dcdcdc" stroke-width="0.6"/>
<path d="M356.00 221.50 V269.00 H404.50" fill="none" stroke="#e4e4e4" stroke-width="0.5"/>
<line x1="355.70" y1="227.40" x2="357.20" y2="227.40" stroke="#aaa" stroke-width="0.5"/>
<line x1="355.70" y1="230.00" x2="357.20" y2="230.00" stroke="#aaa" stroke-width="0.5"/>
<line x1="355.70" y1="232.50" x2="357.20" y2="232.50" stroke="#aaa" stroke-width="0.5"/>
<line x1="355.70" y1="237.70" x2="357.20" y2="237.70" stroke="#aaa" stroke-width="0.5"/>
<line x1="355.70" y1="240.50" x2="357.20" y2="240.50" stroke="#aaa" stroke-width="0.5"/>
<line x1="355.70" y1="243.50" x2="357.20" y2="243.50" stroke="#aaa" stroke-width="0.5"/>
<line x1="355.70" y1="249.00" x2="357.20" y2="249.00" stroke="#aaa" stroke-width="0.5"/>
<line x1="355.70" y1="252.50" x2="357.20" y2="252.50" stroke="#aaa" stroke-width="0.5"/>
<line x1="355.70" y1="256.50" x2="357.20" y2="256.50" stroke="#aaa" stroke-width="0.5"/>
<line x1="355.70" y1="259.50" x2="357.20" y2="259.50" stroke="#aaa" stroke-width="0.5"/>
<line x1="355.70" y1="265.50" x2="357.20" y2="265.50" stroke="#aaa" stroke-width="0.5"/>
<line x1="355.70" y1="227.40" x2="357.60" y2="227.40" stroke="#777" stroke-width="0.6"/>
<line x1="355.70" y1="237.70" x2="357.60" y2="237.70" stroke="#777" stroke-width="0.6"/>
<line x1="355.70" y1="249.00" x2="357.60" y2="249.00" stroke="#777" stroke-width="0.6"/>
<line x1="355.80" y1="263.00" x2="357.40" y2="263.00" stroke="#222" stroke-width="1.4"/>
<line x1="360.00" y1="269.40" x2="360.00" y2="268.00" stroke="#aaa" stroke-width="0.5"/>
<line x1="362.50" y1="269.40" x2="362.50" y2="268.00" stroke="#aaa" stroke-width="0.5"/>
<line x1="365.00" y1="269.40" x2="365.00" y2="268.00" stroke="#aaa" stroke-width="0.5"/>
<line x1="370.00" y1="269.40" x2="370.00" y2="268.00" stroke="#aaa" stroke-width="0.5"/>
<line x1="372.50" y1="269.40" x2="372.50" y2="268.00" stroke="#aaa" stroke-width="0.5"/>
<line x1="375.00" y1="269.40" x2="375.00" y2="268.00" stroke="#aaa" stroke-width="0.5"/>
<line x1="379.00" y1="269.40" x2="379.00" y2="268.00" stroke="#aaa" stroke-width="0.5"/>
<line x1="383.50" y1="269.40" x2="383.50" y2="268.00" stroke="#aaa" stroke-width="0.5"/>
<line x1="386.00" y1="269.40" x2="386.00" y2="268.00" stroke="#aaa" stroke-width="0.5"/>
<line x1="389.00" y1="269.40" x2="389.00" y2="268.00" stroke="#aaa" stroke-width="0.5"/>
<line x1="393.50" y1="269.40" x2="393.50" y2="268.00" stroke="#aaa" stroke-width="0.5"/>
<line x1="396.00" y1="269.40" x2="396.00" y2="268.00" stroke="#aaa" stroke-width="0.5"/>
<line x1="398.50" y1="269.40" x2="398.50" y2="268.00" stroke="#aaa" stroke-width="0.5"/>
<line x1="401.00" y1="269.40" x2="401.00" y2="268.00" stroke="#aaa" stroke-width="0.5"/>
<line x1="366.40" y1="269.50" x2="366.40" y2="267.80" stroke="#777" stroke-width="0.6"/>
<line x1="370.60" y1="269.50" x2="370.60" y2="267.80" stroke="#777" stroke-width="0.6"/>
<line x1="383.60" y1="269.50" x2="383.60" y2="267.80" stroke="#777" stroke-width="0.6"/>
<line x1="395.30" y1="269.50" x2="395.30" y2="267.80" stroke="#777" stroke-width="0.6"/>
<line x1="367.80" y1="269.50" x2="367.80" y2="268.00" stroke="#222" stroke-width="1.4"/>
<path d="M408.80 169.00 H457.30 V216.50" fill="none" stroke="#dcdcdc" stroke-width="0.6"/>
<path d="M408.80 169.00 V216.50 H457.30" fill="none" stroke="#e4e4e4" stroke-width="0.5"/>
<line x1="408.50" y1="174.90" x2="410.00" y2="174.90" stroke="#aaa" stroke-width="0.5"/>
<line x1="408.50" y1="177.50" x2="410.00" y2="177.50" stroke="#aaa" stroke-width="0.5"/>
<line x1="408.50" y1="180.00" x2="410.00" y2="180.00" stroke="#aaa" stroke-width="0.5"/>
<line x1="408.50" y1="185.20" x2="410.00" y2="185.20" stroke="#aaa" stroke-width="0.5"/>
<line x1="408.50" y1="188.00" x2="410.00" y2="188.00" stroke="#aaa" stroke-width="0.5"/>
<line x1="408.50" y1="191.00" x2="410.00" y2="191.00" stroke="#aaa" stroke-width="0.5"/>
<line x1="408.50" y1="196.50" x2="410.00" y2="196.50" stroke="#aaa" stroke-width="0.5"/>
<line x1="408.50" y1="200.00" x2="410.00" y2="200.00" stroke="#aaa" stroke-width="0.5"/>
<line x1="408.50" y1="204.00" x2="410.00" y2="204.00" stroke="#aaa" stroke-width="0.5"/>
<line x1="408.50" y1="207.00" x2="410.00" y2="207.00" stroke="#aaa" stroke-width="0.5"/>
<line x1="408.50" y1="213.00" x2="410.00" y2="213.00" stroke="#aaa" stroke-width="0.5"/>
<line x1="408.50" y1="174.90" x2="410.40" y2="174.90" stroke="#777" stroke-width="0.6"/>
<line x1="408.50" y1="185.20" x2="410.40" y2="185.20" stroke="#777" stroke-width="0.6"/>
<line x1="408.50" y1="196.50" x2="410.40" y2="196.50" stroke="#777" stroke-width="0.6"/>
<line x1="408.60" y1="210.50" x2="410.20" y2="210.50" stroke="#222" stroke-width="1.4"/>
<line x1="412.80" y1="216.90" x2="412.80" y2="215.50" stroke="#aaa" stroke-width="0.5"/>
<line x1="415.30" y1="216.90" x2="415.30" y2="215.50" stroke="#aaa" stroke-width="0.5"/>
<line x1="417.80" y1="216.90" x2="417.80" y2="215.50" stroke="#aaa" stroke-width="0.5"/>
<line x1="422.80" y1="216.90" x2="422.80" y2="215.50" stroke="#aaa" stroke-width="0.5"/>
<line x1="425.30" y1="216.90" x2="425.30" y2="215.50" stroke="#aaa" stroke-width="0.5"/>
<line x1="427.80" y1="216.90" x2="427.80" y2="215.50" stroke="#aaa" stroke-width="0.5"/>
<line x1="431.80" y1="216.90" x2="431.80" y2="215.50" stroke="#aaa" stroke-width="0.5"/>
<line x1="436.30" y1="216.90" x2="436.30" y2="215.50" stroke="#aaa" stroke-width="0.5"/>
<line x1="438.80" y1="216.90" x2="438.80" y2="215.50" stroke="#aaa" stroke-width="0.5"/>
<line x1="441.80" y1="216.90" x2="441.80" y2="215.50" stroke="#aaa" stroke-width="0.5"/>
<line x1="446.30" y1="216.90" x2="446.30" y2="215.50" stroke="#aaa" stroke-width="0.5"/>
<line x1="448.80" y1="216.90" x2="448.80" y2="215.50" stroke="#aaa" stroke-width="0.5"/>
<line x1="451.30" y1="216.90" x2="451.30" y2="215.50" stroke="#aaa" stroke-width="0.5"/>
<line x1="453.80" y1="216.90" x2="453.80" y2="215.50" stroke="#aaa" stroke-width="0.5"/>
<line x1="419.20" y1="217.00" x2="419.20" y2="215.30" stroke="#777" stroke-width="0.6"/>
<line x1="423.40" y1="217.00" x2="423.40" y2="215.30" stroke="#777" stroke-width="0.6"/>
<line x1="436.40" y1="217.00" x2="436.40" y2="215.30" stroke="#777" stroke-width="0.6"/>
<line x1="448.10" y1="217.00" x2="448.10" y2="215.30" stroke="#777" stroke-width="0.6"/>
<line x1="420.60" y1="217.00" x2="420.60" y2="215.50" stroke="#222" stroke-width="1.4"/>
<path d="M408.80 221.50 H457.30 V269.00" fill="none" stroke="#dcdcdc" stroke-width="0.6"/>
<path d="M408.80 221.50 V269.00 H457.30" fill="none" stroke="#e4e4e4" stroke-width="0.5"/>
<line x1="408.50" y1="227.40" x2="410.00" y2="227.40" stroke="#aaa" stroke-width="0.5"/>
<line x1="408.50" y1="230.00" x2="410.00" y2="230.00" stroke="#aaa" stroke-width="0.5"/>
<line x1="408.50" y1="232.50" x2="410.00" y2="232.50" stroke="#aaa" stroke-width="0.5"/>
<line x1="408.50" y1="237.70" x2="410.00" y2="237.70" stroke="#aaa" stroke-width="0.5"/>
<line x1="408.50" y1="240.50" x2="410.00" y2="240.50" stroke="#aaa" stroke-width="0.5"/>
<line x1="408.50" y1="243.50" x2="410.00" y2="243.50" stroke="#aaa" stroke-width="0.5"/>
<line x1="408.50" y1="249.00" x2="410.00" y2="249.00" stroke="#aaa" stroke-width="0.5"/>
<line x1="408.50" y1="252.50" x2="410.00" y2="252.50" stroke="#aaa" stroke-width="0.5"/>
<line x1="408.50" y1="256.50" x2="410.00" y2="256.50" stroke="#aaa" stroke-width="0.5"/>
<line x1="408.50" y1="259.50" x2="410.00" y2="259.50" stroke="#aaa" stroke-width="0.5"/>
<line x1="408.50" y1="265.50" x2="410.00" y2="265.50" stroke="#aaa" stroke-width="0.5"/>
<line x1="408.50" y1="227.40" x2="410.40" y2="227.40" stroke="#777" stroke-width="0.6"/>
<line x1="408.50" y1="237.70" x2="410.40" y2="237.70" stroke="#777" stroke-width="0.6"/>
<line x1="408.50" y1="249.00" x2="410.40" y2="249.00" stroke="#777" stroke-width="0.6"/>
<line x1="408.60" y1="263.00" x2="410.20" y2="263.00" stroke="#222" stroke-width="1.4"/>
<line x1="412.80" y1="269.40" x2="412.80" y2="268.00" stroke="#aaa" stroke-width="0.5"/>
<line x1="415.30" y1="269.40" x2="415.30" y2="268.00" stroke="#aaa" stroke-width="0.5"/>
<line x1="417.80" y1="269.40" x2="417.80" y2="268.00" stroke="#aaa" stroke-width="0.5"/>
<line x1="422.80" y1="269.40" x2="422.80" y2="268.00" stroke="#aaa" stroke-width="0.5"/>
<line x1="425.30" y1="269.40" x2="425.30" y2="268.00" stroke="#aaa" stroke-width="0.5"/>
<line x1="427.80" y1="269.40" x2="427.80" y2="268.00" stroke="#aaa" stroke-width="0.5"/>
<line x1="431.80" y1="269.40" x2="431.80" y2="268.00" stroke="#aaa" stroke-width="0.5"/>
<line x1="436.30" y1="269.40" x2="436.30" y2="268.00" stroke="#aaa" stroke-width="0.5"/>
<line x1="438.80" y1="269.40" x2="438.80" y2="268.00" stroke="#aaa" stroke-width="0.5"/>
<line x1="441.80" y1="269.40" x2="441.80" y2="268.00" stroke="#aaa" stroke-width="0.5"/>
<line x1="446.30" y1="269.40" x2="446.30" y2="268.00" stroke="#aaa" stroke-width="0.5"/>
<line x1="448.80" y1="269.40" x2="448.80" y2="268.00" stroke="#aaa" stroke-width="0.5"/>
<line x1="451.30" y1="269.40" x2="451.30" y2="268.00" stroke="#aaa" stroke-width="0.5"/>
<line x1="453.80" y1="269.40" x2="453.80" y2="268.00" stroke="#aaa" stroke-width="0.5"/>
<line x1="419.20" y1="269.50" x2="419.20" y2="267.80" stroke="#777" stroke-width="0.6"/>
<line x1="423.40" y1="269.50" x2="423.40" y2="267.80" stroke="#777" stroke-width="0.6"/>
<line x1="436.40" y1="269.50" x2="436.40" y2="267.80" stroke="#777" stroke-width="0.6"/>
<line x1="448.10" y1="269.50" x2="448.10" y2="267.80" stroke="#777" stroke-width="0.6"/>
<line x1="420.60" y1="269.50" x2="420.60" y2="268.00" stroke="#222" stroke-width="1.4"/>
<path d="M464.50 169.00 H513.00 V216.50" fill="none" stroke="#dcdcdc" stroke-width="0.6"/>
<path d="M464.50 169.00 V216.50 H513.00" fill="none" stroke="#e4e4e4" stroke-width="0.5"/>
<line x1="464.20" y1="174.90" x2="465.70" y2="174.90" stroke="#aaa" stroke-width="0.5"/>
<line x1="464.20" y1="177.50" x2="465.70" y2="177.50" stroke="#aaa" stroke-width="0.5"/>
<line x1="464.20" y1="180.00" x2="465.70" y2="180.00" stroke="#aaa" stroke-width="0.5"/>
<line x1="464.20" y1="185.20" x2="465.70" y2="185.20" stroke="#aaa" stroke-width="0.5"/>
<line x1="464.20" y1="188.00" x2="465.70" y2="188.00" stroke="#aaa" stroke-width="0.5"/>
<line x1="464.20" y1="191.00" x2="465.70" y2="191.00" stroke="#aaa" stroke-width="0.5"/>
<line x1="464.20" y1="196.50" x2="465.70" y2="196.50" stroke="#aaa" stroke-width="0.5"/>
<line x1="464.20" y1="200.00" x2="465.70" y2="200.00" stroke="#aaa" stroke-width="0.5"/>
<line x1="464.20" y1="204.00" x2="465.70" y2="204.00" stroke="#aaa" stroke-width="0.5"/>
<line x1="464.20" y1="207.00" x2="465.70" y2="207.00" stroke="#aaa" stroke-width="0.5"/>
<line x1="464.20" y1="213.00" x2="465.70" y2="213.00" stroke="#aaa" stroke-width="0.5"/>
<line x1="464.20" y1="174.90" x2="466.10" y2="174.90" stroke="#777" stroke-width="0.6"/>
<line x1="464.20" y1="185.20" x2="466.10" y2="185.20" stroke="#777" stroke-width="0.6"/>
<line x1="464.20" y1="196.50" x2="466.10" y2="196.50" stroke="#777" stroke-width="0.6"/>
<line x1="464.30" y1="210.50" x2="465.90" y2="210.50" stroke="#222" stroke-width="1.4"/>
<line x1="468.50" y1="216.90" x2="468.50" y2="215.50" stroke="#aaa" stroke-width="0.5"/>
<line x1="471.00" y1="216.90" x2="471.00" y2="215.50" stroke="#aaa" stroke-width="0.5"/>
<line x1="473.50" y1="216.90" x2="473.50" y2="215.50" stroke="#aaa" stroke-width="0.5"/>
<line x1="478.50" y1="216.90" x2="478.50" y2="215.50" stroke="#aaa" stroke-width="0.5"/>
<line x1="481.00" y1="216.90" x2="481.00" y2="215.50" stroke="#aaa" stroke-width="0.5"/>
<line x1="483.50" y1="216.90" x2="483.50" y2="215.50" stroke="#aaa" stroke-width="0.5"/>
<line x1="487.50" y1="216.90" x2="487.50" y2="215.50" stroke="#aaa" stroke-width="0.5"/>
<line x1="492.00" y1="216.90" x2="492.00" y2="215.50" stroke="#aaa" stroke-width="0.5"/>
<line x1="494.50" y1="216.90" x2="494.50" y2="215.50" stroke="#aaa" stroke-width="0.5"/>
<line x1="497.50" y1="216.90" x2="497.50" y2="215.50" stroke="#aaa" stroke-width="0.5"/>
<line x1="502.00" y1="216.90" x2="502.00" y2="215.50" stroke="#aaa" stroke-width="0.5"/>
<line x1="504.50" y1="216.90" x2="504.50" y2="215.50" stroke="#aaa" stroke-width="0.5"/>
<line x1="507.00" y1="216.90" x2="507.00" y2="215.50" stroke="#aaa" stroke-width="0.5"/>
<line x1="509.50" y1="216.90" x2="509.50" y2="215.50" stroke="#aaa" stroke-width="0.5"/>
<line x1="474.90" y1="217.00" x2="474.90" y2="215.30" stroke="#777" stroke-width="0.6"/>
<line x1="479.10" y1="217.00" x2="479.10" y2="215.30" stroke="#777" stroke-width="0.6"/>
<line x1="492.10" y1="217.00" x2="492.10" y2="215.30" stroke="#777" stroke-width="0.6"/>
<line x1="503.80" y1="217.00" x2="503.80" y2="215.30" stroke="#777" stroke-width="0.6"/>
<line x1="476.30" y1="217.00" x2="476.30" y2="215.50" stroke="#222" stroke-width="1.4"/>
<path d="M464.50 221.50 H513.00 V269.00" fill="none" stroke="#dcdcdc" stroke-width="0.6"/>
<path d="M464.50 221.50 V269.00 H513.00" fill="none" stroke="#e4e4e4" stroke-width="0.5"/>
<line x1="464.20" y1="227.40" x2="465.70" y2="227.40" stroke="#aaa" stroke-width="0.5"/>
<line x1="464.20" y1="230.00" x2="465.70" y2="230.00" stroke="#aaa" stroke-width="0.5"/>
<line x1="464.20" y1="232.50" x2="465.70" y2="232.50" stroke="#aaa" stroke-width="0.5"/>
<line x1="464.20" y1="237.70" x2="465.70" y2="237.70" stroke="#aaa" stroke-width="0.5"/>
<line x1="464.20" y1="240.50" x2="465.70" y2="240.50" stroke="#aaa" stroke-width="0.5"/>
<line x1="464.20" y1="243.50" x2="465.70" y2="243.50" stroke="#aaa" stroke-width="0.5"/>
<line x1="464.20" y1="249.00" x2="465.70" y2="249.00" stroke="#aaa" stroke-width="0.5"/>
<line x1="464.20" y1="252.50" x2="465.70" y2="252.50" stroke="#aaa" stroke-width="0.5"/>
<line x1="464.20" y1="256.50" x2="465.70" y2="256.50" stroke="#aaa" stroke-width="0.5"/>
<line x1="464.20" y1="259.50" x2="465.70" y2="259.50" stroke="#aaa" stroke-width="0.5"/>
<line x1="464.20" y1="265.50" x2="465.70" y2="265.50" stroke="#aaa" stroke-width="0.5"/>
<line x1="464.20" y1="227.40" x2="466.10" y2="227.40" stroke="#777" stroke-width="0.6"/>
<line x1="464.20" y1="237.70" x2="466.10" y2="237.70" stroke="#777" stroke-width="0.6"/>
<line x1="464.20" y1="249.00" x2="466.10" y2="249.00" stroke="#777" stroke-width="0.6"/>
<line x1="464.30" y1="263.00" x2="465.90" y2="263.00" stroke="#222" stroke-width="1.4"/>
<line x1="468.50" y1="269.40" x2="468.50" y2="268.00" stroke="#aaa" stroke-width="0.5"/>
<line x1="471.00" y1="269.40" x2="471.00" y2="268.00" stroke="#aaa" stroke-width="0.5"/>
<line x1="473.50" y1="269.40" x2="473.50" y2="268.00" stroke="#aaa" stroke-width="0.5"/>
<line x1="478.50" y1="269.40" x2="478.50" y2="268.00" stroke="#aaa" stroke-width="0.5"/>
<line x1="481.00" y1="269.40" x2="481.00" y2="268.00" stroke="#aaa" stroke-width="0.5"/>
<line x1="483.50" y1="269.40" x2="483.50" y2="268.00" stroke="#aaa" stroke-width="0.5"/>
<line x1="487.50" y1="269.40" x2="487.50" y2="268.00" stroke="#aaa" stroke-width="0.5"/>
<line x1="492.00" y1="269.40" x2="492.00" y2="268.00" stroke="#aaa" stroke-width="0.5"/>
<line x1="494.50" y1="269.40" x2="494.50" y2="268.00" stroke="#aaa" stroke-width="0.5"/>
<line x1="497.50" y1="269.40" x2="497.50" y2="268.00" stroke="#aaa" stroke-width="0.5"/>
<line x1="502.00" y1="269.40" x2="502.00" y2="268.00" stroke="#aaa" stroke-width="0.5"/>
<line x1="504.50" y1="269.40" x2="504.50" y2="268.00" stroke="#aaa" stroke-width="0.5"/>
<line x1="507.00" y1="269.40" x2="507.00" y2="268.00" stroke="#aaa" stroke-width="0.5"/>
<line x1="509.50" y1="269.40" x2="509.50" y2="268.00" stroke="#aaa" stroke-width="0.5"/>
<line x1="474.90" y1="269.50" x2="474.90" y2="267.80" stroke="#777" stroke-width="0.6"/>
<line x1="479.10" y1="269.50" x2="479.10" y2="267.80" stroke="#777" stroke-width="0.6"/>
<line x1="492.10" y1="269.50" x2="492.10" y2="267.80" stroke="#777" stroke-width="0.6"/>
<line x1="503.80" y1="269.50" x2="503.80" y2="267.80" stroke="#777" stroke-width="0.6"/>
<line x1="476.30" y1="269.50" x2="476.30" y2="268.00" stroke="#222" stroke-width="1.4"/>
<text x="328.70" y="165.30" font-size="6.5" text-anchor="middle" textLength="36.00" lengthAdjust="spacingAndGlyphs" stroke="#333" stroke-width="0.22">CD150<tspan font-size="70%" baseline-shift="2.4">+</tspan> LSK</text>
<text x="379.40" y="165.00" font-size="6.5" text-anchor="middle" textLength="16.70" lengthAdjust="spacingAndGlyphs" stroke="#333" stroke-width="0.22">LMPP</text>
<text x="432.70" y="165.20" font-size="6.5" text-anchor="middle" textLength="34.00" lengthAdjust="spacingAndGlyphs" stroke="#333" stroke-width="0.22">CLP (Ly6D<tspan font-size="70%" baseline-shift="2.4">–</tspan>)</text>
<text x="488.50" y="165.20" font-size="6.5" text-anchor="middle" textLength="35.00" lengthAdjust="spacingAndGlyphs" stroke="#333" stroke-width="0.22">BLP (Ly6D<tspan font-size="70%" baseline-shift="2.4">–</tspan>)</text>
<defs><radialGradient id="gl2"><stop offset="0" stop-color="#a8a8a8"/><stop offset="0.5" stop-color="#bcbcbc"/><stop offset="0.8" stop-color="#e0e0e0"/><stop offset="1" stop-color="#fff" stop-opacity="0"/></radialGradient><radialGradient id="gl3"><stop offset="0" stop-color="#cfcfcf"/><stop offset="0.6" stop-color="#e2e2e2"/><stop offset="1" stop-color="#fff" stop-opacity="0"/></radialGradient></defs>
<ellipse cx="318.50" cy="188.00" rx="7.82" ry="4.83" fill="url(#gl2)" transform="rotate(0 318.50 188.00)"/>
<ellipse cx="318.50" cy="188.00" rx="2.04" ry="1.26" fill="none" stroke="#707070" stroke-width="0.5" stroke-opacity="0.85" transform="rotate(0 318.50 188.00)"/>
<ellipse cx="318.50" cy="188.00" rx="3.74" ry="2.31" fill="none" stroke="#707070" stroke-width="0.5" stroke-opacity="0.80" transform="rotate(0 318.50 188.00)"/>
<ellipse cx="318.50" cy="188.00" rx="5.44" ry="3.36" fill="none" stroke="#707070" stroke-width="0.5" stroke-opacity="0.60" transform="rotate(0 318.50 188.00)"/>
<ellipse cx="318.50" cy="188.00" rx="6.80" ry="4.20" fill="none" stroke="#707070" stroke-width="0.5" stroke-opacity="0.35" transform="rotate(0 318.50 188.00)"/>
<ellipse cx="318.50" cy="188.00" rx="1.22" ry="0.76" fill="#e8e8e8" transform="rotate(0 318.50 188.00)"/>
<ellipse cx="331.50" cy="201.50" rx="5.29" ry="9.77" fill="url(#gl2)" transform="rotate(0 331.50 201.50)"/>
<ellipse cx="331.50" cy="201.50" rx="1.38" ry="2.55" fill="none" stroke="#707070" stroke-width="0.5" stroke-opacity="0.85" transform="rotate(0 331.50 201.50)"/>
<ellipse cx="331.50" cy="201.50" rx="2.53" ry="4.68" fill="none" stroke="#707070" stroke-width="0.5" stroke-opacity="0.80" transform="rotate(0 331.50 201.50)"/>
<ellipse cx="331.50" cy="201.50" rx="3.68" ry="6.80" fill="none" stroke="#707070" stroke-width="0.5" stroke-opacity="0.60" transform="rotate(0 331.50 201.50)"/>
<ellipse cx="331.50" cy="201.50" rx="4.60" ry="8.50" fill="none" stroke="#707070" stroke-width="0.5" stroke-opacity="0.35" transform="rotate(0 331.50 201.50)"/>
<ellipse cx="331.50" cy="201.50" rx="0.83" ry="1.53" fill="#e8e8e8" transform="rotate(0 331.50 201.50)"/>
<path d="M311.98 182.69 L321.88 181.80 L326.50 186.23 L325.68 192.42 L319.07 199.50 L313.30 199.50 L310.00 191.53 Z" fill="none" stroke="#555" stroke-width="0.55"/>
<path d="M324.80 195.12 L330.80 192.20 L337.20 195.12 L338.80 205.56 L337.20 215.28 L328.80 216.50 L321.20 214.56 L318.80 206.78 Z" fill="none" stroke="#555" stroke-width="0.55"/>
<ellipse cx="368.30" cy="186.90" rx="9.77" ry="4.14" fill="url(#gl2)" transform="rotate(0 368.30 186.90)"/>
<ellipse cx="368.30" cy="186.90" rx="2.55" ry="1.08" fill="none" stroke="#707070" stroke-width="0.5" stroke-opacity="0.85" transform="rotate(0 368.30 186.90)"/>
<ellipse cx="368.30" cy="186.90" rx="4.68" ry="1.98" fill="none" stroke="#707070" stroke-width="0.5" stroke-opacity="0.80" transform="rotate(0 368.30 186.90)"/>
<ellipse cx="368.30" cy="186.90" rx="6.80" ry="2.88" fill="none" stroke="#707070" stroke-width="0.5" stroke-opacity="0.60" transform="rotate(0 368.30 186.90)"/>
<ellipse cx="368.30" cy="186.90" rx="8.50" ry="3.60" fill="none" stroke="#707070" stroke-width="0.5" stroke-opacity="0.35" transform="rotate(0 368.30 186.90)"/>
<ellipse cx="368.30" cy="186.90" rx="1.53" ry="0.65" fill="#e8e8e8" transform="rotate(0 368.30 186.90)"/>
<ellipse cx="382.70" cy="205.00" rx="4.60" ry="9.20" fill="url(#gl2)" transform="rotate(0 382.70 205.00)"/>
<ellipse cx="382.70" cy="205.00" rx="1.20" ry="2.40" fill="none" stroke="#707070" stroke-width="0.5" stroke-opacity="0.85" transform="rotate(0 382.70 205.00)"/>
<ellipse cx="382.70" cy="205.00" rx="2.20" ry="4.40" fill="none" stroke="#707070" stroke-width="0.5" stroke-opacity="0.80" transform="rotate(0 382.70 205.00)"/>
<ellipse cx="382.70" cy="205.00" rx="3.20" ry="6.40" fill="none" stroke="#707070" stroke-width="0.5" stroke-opacity="0.60" transform="rotate(0 382.70 205.00)"/>
<ellipse cx="382.70" cy="205.00" rx="4.00" ry="8.00" fill="none" stroke="#707070" stroke-width="0.5" stroke-opacity="0.35" transform="rotate(0 382.70 205.00)"/>
<ellipse cx="382.70" cy="205.00" rx="0.72" ry="1.44" fill="#e8e8e8" transform="rotate(0 382.70 205.00)"/>
<path d="M359.00 184.00 L361.30 182.00 L375.40 182.00 L379.40 186.16 L378.90 189.28 L375.90 192.40 L360.80 192.40 L357.80 188.76 Z" fill="none" stroke="#555" stroke-width="0.55"/>
<path d="M375.60 205.30 C375.60 194.00 377.60 194.00 382.50 194.00 C388.40 194.00 389.40 197.00 389.40 205.30 C389.40 214.60 387.40 216.60 382.50 216.60 C377.60 216.60 375.60 214.60 375.60 205.30 Z" fill="none" stroke="#555" stroke-width="0.55"/>
<ellipse cx="420.00" cy="188.40" rx="8.97" ry="3.91" fill="url(#gl2)" transform="rotate(0 420.00 188.40)"/>
<ellipse cx="420.00" cy="188.40" rx="2.34" ry="1.02" fill="none" stroke="#707070" stroke-width="0.5" stroke-opacity="0.85" transform="rotate(0 420.00 188.40)"/>
<ellipse cx="420.00" cy="188.40" rx="4.29" ry="1.87" fill="none" stroke="#707070" stroke-width="0.5" stroke-opacity="0.80" transform="rotate(0 420.00 188.40)"/>
<ellipse cx="420.00" cy="188.40" rx="6.24" ry="2.72" fill="none" stroke="#707070" stroke-width="0.5" stroke-opacity="0.60" transform="rotate(0 420.00 188.40)"/>
<ellipse cx="420.00" cy="188.40" rx="7.80" ry="3.40" fill="none" stroke="#707070" stroke-width="0.5" stroke-opacity="0.35" transform="rotate(0 420.00 188.40)"/>
<ellipse cx="420.00" cy="188.40" rx="1.40" ry="0.61" fill="#e8e8e8" transform="rotate(0 420.00 188.40)"/>
<ellipse cx="434.80" cy="206.80" rx="4.60" ry="5.98" fill="url(#gl3)" transform="rotate(0 434.80 206.80)"/>
<ellipse cx="434.80" cy="206.80" rx="1.20" ry="1.56" fill="none" stroke="#707070" stroke-width="0.5" stroke-opacity="0.59" transform="rotate(0 434.80 206.80)"/>
<ellipse cx="434.80" cy="206.80" rx="2.20" ry="2.86" fill="none" stroke="#707070" stroke-width="0.5" stroke-opacity="0.56" transform="rotate(0 434.80 206.80)"/>
<ellipse cx="434.80" cy="206.80" rx="3.20" ry="4.16" fill="none" stroke="#707070" stroke-width="0.5" stroke-opacity="0.42" transform="rotate(0 434.80 206.80)"/>
<ellipse cx="434.80" cy="206.80" rx="4.00" ry="5.20" fill="none" stroke="#707070" stroke-width="0.5" stroke-opacity="0.24" transform="rotate(0 434.80 206.80)"/>
<ellipse cx="434.80" cy="206.80" rx="0.72" ry="0.94" fill="#e8e8e8" transform="rotate(0 434.80 206.80)"/>
<path d="M411.60 185.50 L413.90 183.50 L425.60 183.50 L429.60 187.66 L429.10 190.78 L426.10 193.90 L413.40 193.90 L410.40 190.26 Z" fill="none" stroke="#555" stroke-width="0.55"/>
<path d="M428.20 217.30 L428.20 204.53 C428.20 199.17 430.88 198.50 434.90 198.50 C438.92 198.50 441.60 199.17 441.60 204.53 L441.60 217.30" fill="none" stroke="#555" stroke-width="0.55"/>
<ellipse cx="475.00" cy="188.40" rx="9.89" ry="3.91" fill="url(#gl2)" transform="rotate(0 475.00 188.40)"/>
<ellipse cx="475.00" cy="188.40" rx="2.58" ry="1.02" fill="none" stroke="#707070" stroke-width="0.5" stroke-opacity="0.85" transform="rotate(0 475.00 188.40)"/>
<ellipse cx="475.00" cy="188.40" rx="4.73" ry="1.87" fill="none" stroke="#707070" stroke-width="0.5" stroke-opacity="0.80" transform="rotate(0 475.00 188.40)"/>
<ellipse cx="475.00" cy="188.40" rx="6.88" ry="2.72" fill="none" stroke="#707070" stroke-width="0.5" stroke-opacity="0.60" transform="rotate(0 475.00 188.40)"/>
<ellipse cx="475.00" cy="188.40" rx="8.60" ry="3.40" fill="none" stroke="#707070" stroke-width="0.5" stroke-opacity="0.35" transform="rotate(0 475.00 188.40)"/>
<ellipse cx="475.00" cy="188.40" rx="1.55" ry="0.61" fill="#e8e8e8" transform="rotate(0 475.00 188.40)"/>
<ellipse cx="490.40" cy="207.00" rx="4.60" ry="6.21" fill="url(#gl3)" transform="rotate(0 490.40 207.00)"/>
<ellipse cx="490.40" cy="207.00" rx="1.20" ry="1.62" fill="none" stroke="#707070" stroke-width="0.5" stroke-opacity="0.59" transform="rotate(0 490.40 207.00)"/>
<ellipse cx="490.40" cy="207.00" rx="2.20" ry="2.97" fill="none" stroke="#707070" stroke-width="0.5" stroke-opacity="0.56" transform="rotate(0 490.40 207.00)"/>
<ellipse cx="490.40" cy="207.00" rx="3.20" ry="4.32" fill="none" stroke="#707070" stroke-width="0.5" stroke-opacity="0.42" transform="rotate(0 490.40 207.00)"/>
<ellipse cx="490.40" cy="207.00" rx="4.00" ry="5.40" fill="none" stroke="#707070" stroke-width="0.5" stroke-opacity="0.24" transform="rotate(0 490.40 207.00)"/>
<ellipse cx="490.40" cy="207.00" rx="0.72" ry="0.97" fill="#e8e8e8" transform="rotate(0 490.40 207.00)"/>
<path d="M466.20 185.50 L468.50 183.50 L482.00 183.50 L486.00 187.70 L485.50 190.85 L482.50 194.00 L468.00 194.00 L465.00 190.32 Z" fill="none" stroke="#555" stroke-width="0.55"/>
<path d="M484.30 217.30 L484.30 202.79 C484.30 197.91 486.74 197.30 490.40 197.30 C494.06 197.30 496.50 197.91 496.50 202.79 L496.50 217.30" fill="none" stroke="#555" stroke-width="0.55"/>
<ellipse cx="317.10" cy="240.20" rx="5.98" ry="6.44" fill="url(#gl2)" transform="rotate(0 317.10 240.20)"/>
<ellipse cx="317.10" cy="240.20" rx="1.56" ry="1.68" fill="none" stroke="#707070" stroke-width="0.5" stroke-opacity="0.85" transform="rotate(0 317.10 240.20)"/>
<ellipse cx="317.10" cy="240.20" rx="2.86" ry="3.08" fill="none" stroke="#707070" stroke-width="0.5" stroke-opacity="0.80" transform="rotate(0 317.10 240.20)"/>
<ellipse cx="317.10" cy="240.20" rx="4.16" ry="4.48" fill="none" stroke="#707070" stroke-width="0.5" stroke-opacity="0.60" transform="rotate(0 317.10 240.20)"/>
<ellipse cx="317.10" cy="240.20" rx="5.20" ry="5.60" fill="none" stroke="#707070" stroke-width="0.5" stroke-opacity="0.35" transform="rotate(0 317.10 240.20)"/>
<ellipse cx="317.10" cy="240.20" rx="0.94" ry="1.01" fill="#e8e8e8" transform="rotate(0 317.10 240.20)"/>
<ellipse cx="317.10" cy="240.20" rx="4.14" ry="4.48" fill="url(#gl2)" transform="rotate(0 317.10 240.20)"/>
<ellipse cx="317.10" cy="240.20" rx="1.08" ry="1.17" fill="none" stroke="#707070" stroke-width="0.5" stroke-opacity="0.85" transform="rotate(0 317.10 240.20)"/>
<ellipse cx="317.10" cy="240.20" rx="1.98" ry="2.15" fill="none" stroke="#707070" stroke-width="0.5" stroke-opacity="0.80" transform="rotate(0 317.10 240.20)"/>
<ellipse cx="317.10" cy="240.20" rx="2.88" ry="3.12" fill="none" stroke="#707070" stroke-width="0.5" stroke-opacity="0.60" transform="rotate(0 317.10 240.20)"/>
<ellipse cx="317.10" cy="240.20" rx="3.60" ry="3.90" fill="none" stroke="#707070" stroke-width="0.5" stroke-opacity="0.35" transform="rotate(0 317.10 240.20)"/>
<ellipse cx="328.70" cy="255.40" rx="6.90" ry="9.77" fill="url(#gl3)" transform="rotate(10 328.70 255.40)"/>
<ellipse cx="328.70" cy="255.40" rx="1.80" ry="2.55" fill="none" stroke="#707070" stroke-width="0.5" stroke-opacity="0.42" transform="rotate(10 328.70 255.40)"/>
<ellipse cx="328.70" cy="255.40" rx="3.30" ry="4.68" fill="none" stroke="#707070" stroke-width="0.5" stroke-opacity="0.40" transform="rotate(10 328.70 255.40)"/>
<ellipse cx="328.70" cy="255.40" rx="4.80" ry="6.80" fill="none" stroke="#707070" stroke-width="0.5" stroke-opacity="0.30" transform="rotate(10 328.70 255.40)"/>
<ellipse cx="328.70" cy="255.40" rx="6.00" ry="8.50" fill="none" stroke="#707070" stroke-width="0.5" stroke-opacity="0.17" transform="rotate(10 328.70 255.40)"/>
<path d="M312.36 235.06 L322.14 234.20 L326.70 238.52 L325.88 244.58 L319.37 251.50 L313.66 251.50 L310.40 243.72 Z" fill="none" stroke="#555" stroke-width="0.55"/>
<path d="M324.79 246.69 L330.58 243.80 L336.76 246.69 L338.30 257.06 L336.76 266.69 L328.65 267.90 L321.32 265.97 L319.00 258.26 Z" fill="none" stroke="#555" stroke-width="0.55"/>
<ellipse cx="368.30" cy="239.40" rx="10.35" ry="4.37" fill="url(#gl2)" transform="rotate(0 368.30 239.40)"/>
<ellipse cx="368.30" cy="239.40" rx="2.70" ry="1.14" fill="none" stroke="#707070" stroke-width="0.5" stroke-opacity="0.85" transform="rotate(0 368.30 239.40)"/>
<ellipse cx="368.30" cy="239.40" rx="4.95" ry="2.09" fill="none" stroke="#707070" stroke-width="0.5" stroke-opacity="0.80" transform="rotate(0 368.30 239.40)"/>
<ellipse cx="368.30" cy="239.40" rx="7.20" ry="3.04" fill="none" stroke="#707070" stroke-width="0.5" stroke-opacity="0.60" transform="rotate(0 368.30 239.40)"/>
<ellipse cx="368.30" cy="239.40" rx="9.00" ry="3.80" fill="none" stroke="#707070" stroke-width="0.5" stroke-opacity="0.35" transform="rotate(0 368.30 239.40)"/>
<ellipse cx="368.30" cy="239.40" rx="1.62" ry="0.68" fill="#e8e8e8" transform="rotate(0 368.30 239.40)"/>
<ellipse cx="381.20" cy="256.30" rx="3.45" ry="4.83" fill="url(#gl3)" transform="rotate(0 381.20 256.30)"/>
<ellipse cx="381.20" cy="256.30" rx="0.90" ry="1.26" fill="none" stroke="#707070" stroke-width="0.5" stroke-opacity="0.42" transform="rotate(0 381.20 256.30)"/>
<ellipse cx="381.20" cy="256.30" rx="1.65" ry="2.31" fill="none" stroke="#707070" stroke-width="0.5" stroke-opacity="0.40" transform="rotate(0 381.20 256.30)"/>
<ellipse cx="381.20" cy="256.30" rx="2.40" ry="3.36" fill="none" stroke="#707070" stroke-width="0.5" stroke-opacity="0.30" transform="rotate(0 381.20 256.30)"/>
<ellipse cx="381.20" cy="256.30" rx="3.00" ry="4.20" fill="none" stroke="#707070" stroke-width="0.5" stroke-opacity="0.17" transform="rotate(0 381.20 256.30)"/>
<ellipse cx="381.20" cy="256.30" rx="0.54" ry="0.76" fill="#e8e8e8" transform="rotate(0 381.20 256.30)"/>
<path d="M358.20 236.00 L360.50 234.00 L375.60 234.00 L379.60 238.24 L379.10 241.42 L376.10 244.60 L360.00 244.60 L357.00 240.89 Z" fill="none" stroke="#555" stroke-width="0.55"/>
<path d="M375.80 256.85 C375.80 245.80 377.80 245.80 382.50 245.80 C388.20 245.80 389.20 248.80 389.20 256.85 C389.20 265.90 387.20 267.90 382.50 267.90 C377.80 267.90 375.80 265.90 375.80 256.85 Z" fill="none" stroke="#555" stroke-width="0.55"/>
<ellipse cx="419.60" cy="239.40" rx="9.20" ry="4.25" fill="url(#gl2)" transform="rotate(0 419.60 239.40)"/>
<ellipse cx="419.60" cy="239.40" rx="2.40" ry="1.11" fill="none" stroke="#707070" stroke-width="0.5" stroke-opacity="0.85" transform="rotate(0 419.60 239.40)"/>
<ellipse cx="419.60" cy="239.40" rx="4.40" ry="2.04" fill="none" stroke="#707070" stroke-width="0.5" stroke-opacity="0.80" transform="rotate(0 419.60 239.40)"/>
<ellipse cx="419.60" cy="239.40" rx="6.40" ry="2.96" fill="none" stroke="#707070" stroke-width="0.5" stroke-opacity="0.60" transform="rotate(0 419.60 239.40)"/>
<ellipse cx="419.60" cy="239.40" rx="8.00" ry="3.70" fill="none" stroke="#707070" stroke-width="0.5" stroke-opacity="0.35" transform="rotate(0 419.60 239.40)"/>
<ellipse cx="419.60" cy="239.40" rx="1.44" ry="0.67" fill="#e8e8e8" transform="rotate(0 419.60 239.40)"/>
<path d="M411.70 236.00 L414.00 234.00 L424.50 234.00 L428.50 238.24 L428.00 241.42 L425.00 244.60 L413.50 244.60 L410.50 240.89 Z" fill="none" stroke="#555" stroke-width="0.55"/>
<path d="M428.00 268.80 L428.00 255.22 C428.00 250.22 430.50 249.60 434.25 249.60 C438.00 249.60 440.50 250.22 440.50 255.22 L440.50 268.80" fill="none" stroke="#555" stroke-width="0.55"/>
<ellipse cx="475.00" cy="239.70" rx="10.35" ry="4.25" fill="url(#gl2)" transform="rotate(0 475.00 239.70)"/>
<ellipse cx="475.00" cy="239.70" rx="2.70" ry="1.11" fill="none" stroke="#707070" stroke-width="0.5" stroke-opacity="0.85" transform="rotate(0 475.00 239.70)"/>
<ellipse cx="475.00" cy="239.70" rx="4.95" ry="2.04" fill="none" stroke="#707070" stroke-width="0.5" stroke-opacity="0.80" transform="rotate(0 475.00 239.70)"/>
<ellipse cx="475.00" cy="239.70" rx="7.20" ry="2.96" fill="none" stroke="#707070" stroke-width="0.5" stroke-opacity="0.60" transform="rotate(0 475.00 239.70)"/>
<ellipse cx="475.00" cy="239.70" rx="9.00" ry="3.70" fill="none" stroke="#707070" stroke-width="0.5" stroke-opacity="0.35" transform="rotate(0 475.00 239.70)"/>
<ellipse cx="475.00" cy="239.70" rx="1.62" ry="0.67" fill="#e8e8e8" transform="rotate(0 475.00 239.70)"/>
<path d="M466.20 236.40 L468.50 234.40 L482.00 234.40 L486.00 238.68 L485.50 241.89 L482.50 245.10 L468.00 245.10 L465.00 241.35 Z" fill="none" stroke="#555" stroke-width="0.55"/>
<path d="M484.00 268.80 L484.00 255.76 C484.00 250.64 486.56 250.00 490.40 250.00 C494.24 250.00 496.80 250.64 496.80 255.76 L496.80 268.80" fill="none" stroke="#555" stroke-width="0.55"/>
<text x="318.60" y="179.90" font-size="7" text-anchor="middle" textLength="12.60" lengthAdjust="spacingAndGlyphs" stroke="#333" stroke-width="0.22">34.4</text>
<text x="340.90" y="192.00" font-size="7" text-anchor="middle" textLength="12.60" lengthAdjust="spacingAndGlyphs" stroke="#333" stroke-width="0.22">64.5</text>
<text x="370.70" y="180.20" font-size="7" text-anchor="middle" textLength="12.60" lengthAdjust="spacingAndGlyphs" stroke="#333" stroke-width="0.22">45.2</text>
<text x="392.80" y="191.90" font-size="7" text-anchor="middle" textLength="12.60" lengthAdjust="spacingAndGlyphs" stroke="#333" stroke-width="0.22">54.3</text>
<text x="423.60" y="180.20" font-size="7" text-anchor="middle" textLength="12.60" lengthAdjust="spacingAndGlyphs" stroke="#333" stroke-width="0.22">55.0</text>
<text x="445.00" y="191.30" font-size="7" text-anchor="middle" textLength="12.60" lengthAdjust="spacingAndGlyphs" stroke="#333" stroke-width="0.22">44.4</text>
<text x="479.00" y="180.20" font-size="7" text-anchor="middle" textLength="12.60" lengthAdjust="spacingAndGlyphs" stroke="#333" stroke-width="0.22">53.9</text>
<text x="500.40" y="191.30" font-size="7" text-anchor="middle" textLength="12.60" lengthAdjust="spacingAndGlyphs" stroke="#333" stroke-width="0.22">45.1</text>
<text x="319.00" y="232.50" font-size="7" text-anchor="middle" textLength="12.60" lengthAdjust="spacingAndGlyphs" stroke="#333" stroke-width="0.22">47.4</text>
<text x="343.50" y="243.30" font-size="7" text-anchor="middle" textLength="12.60" lengthAdjust="spacingAndGlyphs" stroke="#333" stroke-width="0.22">51.3</text>
<text x="370.00" y="231.80" font-size="7" text-anchor="middle" textLength="12.60" lengthAdjust="spacingAndGlyphs" stroke="#333" stroke-width="0.22">90.5</text>
<text x="393.00" y="242.90" font-size="7" text-anchor="middle" textLength="9.20" lengthAdjust="spacingAndGlyphs" stroke="#333" stroke-width="0.22">8.8</text>
<text x="423.30" y="231.80" font-size="7" text-anchor="middle" textLength="12.60" lengthAdjust="spacingAndGlyphs" stroke="#333" stroke-width="0.22">98.6</text>
<text x="446.20" y="242.90" font-size="7" text-anchor="middle" textLength="9.20" lengthAdjust="spacingAndGlyphs" stroke="#333" stroke-width="0.22">1.4</text>
<text x="478.10" y="232.00" font-size="7" text-anchor="middle" textLength="12.60" lengthAdjust="spacingAndGlyphs" stroke="#333" stroke-width="0.22">95.6</text>
<text x="501.20" y="242.70" font-size="7" text-anchor="middle" textLength="9.20" lengthAdjust="spacingAndGlyphs" stroke="#333" stroke-width="0.22">3.3</text>
<text x="298.60" y="229.80" font-size="6.5" text-anchor="end" textLength="8.00" lengthAdjust="spacingAndGlyphs" fill="#444" stroke="#444" stroke-width="0.22">10<tspan font-size="70%" baseline-shift="2.8">5</tspan></text>
<text x="298.60" y="240.10" font-size="6.5" text-anchor="end" textLength="8.00" lengthAdjust="spacingAndGlyphs" fill="#444" stroke="#444" stroke-width="0.22">10<tspan font-size="70%" baseline-shift="2.8">4</tspan></text>
<text x="298.60" y="251.40" font-size="6.5" text-anchor="end" textLength="8.00" lengthAdjust="spacingAndGlyphs" fill="#444" stroke="#444" stroke-width="0.22">10<tspan font-size="70%" baseline-shift="2.8">3</tspan></text>
<text x="298.80" y="265.80" font-size="6.5" text-anchor="end" fill="#444" stroke="#444" stroke-width="0.22">0</text>
<line x1="300.60" y1="227.40" x2="302.60" y2="227.40" stroke="#777" stroke-width="0.6"/>
<line x1="300.60" y1="237.70" x2="302.60" y2="237.70" stroke="#777" stroke-width="0.6"/>
<line x1="300.60" y1="249.00" x2="302.60" y2="249.00" stroke="#777" stroke-width="0.6"/>
<line x1="300.60" y1="263.00" x2="302.60" y2="263.00" stroke="#777" stroke-width="0.6"/>
<text x="314.20" y="279.00" font-size="6.5" textLength="3.40" lengthAdjust="spacingAndGlyphs" fill="#444" stroke="#444" stroke-width="0.22">0</text>
<text x="318.20" y="279.00" font-size="6.5" textLength="8.60" lengthAdjust="spacingAndGlyphs" fill="#444" stroke="#444" stroke-width="0.22">10<tspan font-size="70%" baseline-shift="2.8">3</tspan></text>
<text x="331.90" y="279.00" font-size="6.5" textLength="8.80" lengthAdjust="spacingAndGlyphs" fill="#444" stroke="#444" stroke-width="0.22">10<tspan font-size="70%" baseline-shift="2.8">4</tspan></text>
<text x="343.60" y="279.00" font-size="6.5" textLength="8.80" lengthAdjust="spacingAndGlyphs" fill="#444" stroke="#444" stroke-width="0.22">10<tspan font-size="70%" baseline-shift="2.8">5</tspan></text>
<text x="267.30" y="191.60" font-size="6.5" text-anchor="middle" textLength="11.90" lengthAdjust="spacingAndGlyphs" font-style="italic" fill="#4a6eaa" stroke="#4a6eaa" stroke-width="0.22">Ctrl</text>
<text x="267.60" y="249.90" font-size="6.5" text-anchor="middle" textLength="15.30" lengthAdjust="spacingAndGlyphs" font-style="italic" fill="#d6426a" stroke="#d6426a" stroke-width="0.22">DKO</text>
<line x1="282.20" y1="241.30" x2="282.20" y2="195.00" stroke="#111" stroke-width="1.0"/>
<path d="M282.2 190.4 L280.0 196.5 L284.4 196.5 Z" fill="#111"/>
<text x="285.30" y="259.00" font-size="8.8" text-anchor="middle" textLength="20.50" lengthAdjust="spacingAndGlyphs" stroke="#333" stroke-width="0.22" transform="rotate(-90 285.30 259.00)">CD45.1</text>
<text x="303.70" y="290.30" font-size="8.8" textLength="22.30" lengthAdjust="spacingAndGlyphs" stroke="#333" stroke-width="0.22">CD45.2</text>
<line x1="328.60" y1="287.00" x2="452.00" y2="287.00" stroke="#111" stroke-width="1.0"/>
<path d="M457.0 287.0 L450.8 284.8 L450.8 289.2 Z" fill="#111"/>
<line x1="56.30" y1="320.50" x2="56.30" y2="408.30" stroke="#222" stroke-width="0.9"/>
<line x1="53.10" y1="322.30" x2="56.30" y2="322.30" stroke="#222" stroke-width="0.8"/>
<text x="50.30" y="324.82" font-size="7" text-anchor="end" fill="#444" stroke="#444" stroke-width="0.22">1.5</text>
<line x1="53.10" y1="351.70" x2="56.30" y2="351.70" stroke="#222" stroke-width="0.8"/>
<text x="50.30" y="354.22" font-size="7" text-anchor="end" fill="#444" stroke="#444" stroke-width="0.22">1.0</text>
<line x1="53.10" y1="380.30" x2="56.30" y2="380.30" stroke="#222" stroke-width="0.8"/>
<text x="50.30" y="382.82" font-size="7" text-anchor="end" fill="#444" stroke="#444" stroke-width="0.22">0.5</text>
<line x1="53.10" y1="408.30" x2="56.30" y2="408.30" stroke="#222" stroke-width="0.8"/>
<text x="50.30" y="410.82" font-size="7" text-anchor="end" fill="#444" stroke="#444" stroke-width="0.22">0</text>
<line x1="56.30" y1="408.30" x2="264.60" y2="408.30" stroke="#222" stroke-width="0.9"/>
<line x1="67.70" y1="408.30" x2="67.70" y2="410.50" stroke="#222" stroke-width="0.8"/>
<line x1="94.35" y1="408.30" x2="94.35" y2="410.50" stroke="#222" stroke-width="0.8"/>
<line x1="121.00" y1="408.30" x2="121.00" y2="410.50" stroke="#222" stroke-width="0.8"/>
<line x1="147.65" y1="408.30" x2="147.65" y2="410.50" stroke="#222" stroke-width="0.8"/>
<line x1="174.30" y1="408.30" x2="174.30" y2="410.50" stroke="#222" stroke-width="0.8"/>
<line x1="200.95" y1="408.30" x2="200.95" y2="410.50" stroke="#222" stroke-width="0.8"/>
<line x1="227.60" y1="408.30" x2="227.60" y2="410.50" stroke="#222" stroke-width="0.8"/>
<line x1="254.25" y1="408.30" x2="254.25" y2="410.50" stroke="#222" stroke-width="0.8"/>
<rect x="59.20" y="352.00" width="6.80" height="56.30" fill="#1c4d8e"/>
<line x1="62.60" y1="352.00" x2="62.60" y2="340.30" stroke="#2a2a2a" stroke-width="0.75"/>
<line x1="60.73" y1="340.30" x2="64.47" y2="340.30" stroke="#2a2a2a" stroke-width="0.75"/>
<circle cx="62.60" cy="335.50" r="1.35" fill="#111"/>
<circle cx="60.60" cy="344.00" r="1.35" fill="#111"/>
<circle cx="64.60" cy="346.50" r="1.35" fill="#111"/>
<circle cx="63.60" cy="350.00" r="1.35" fill="#111"/>
<circle cx="61.60" cy="358.00" r="1.35" fill="#111"/>
<circle cx="62.60" cy="368.00" r="1.35" fill="#111"/>
<rect x="69.40" y="382.90" width="6.80" height="25.40" fill="#c8102e"/>
<line x1="72.80" y1="382.90" x2="72.80" y2="376.20" stroke="#2a2a2a" stroke-width="0.75"/>
<line x1="70.93" y1="376.20" x2="74.67" y2="376.20" stroke="#2a2a2a" stroke-width="0.75"/>
<circle cx="72.80" cy="373.50" r="1.35" fill="#111"/>
<circle cx="70.80" cy="377.00" r="1.35" fill="#111"/>
<circle cx="74.30" cy="378.50" r="1.35" fill="#111"/>
<circle cx="72.80" cy="388.00" r="1.35" fill="#111"/>
<circle cx="71.80" cy="395.00" r="1.35" fill="#111"/>
<circle cx="73.80" cy="399.00" r="1.35" fill="#111"/>
<rect x="85.85" y="353.30" width="6.80" height="55.00" fill="#1c4d8e"/>
<line x1="89.25" y1="353.30" x2="89.25" y2="339.80" stroke="#2a2a2a" stroke-width="0.75"/>
<line x1="87.38" y1="339.80" x2="91.12" y2="339.80" stroke="#2a2a2a" stroke-width="0.75"/>
<circle cx="89.25" cy="337.50" r="1.35" fill="#111"/>
<circle cx="87.25" cy="341.50" r="1.35" fill="#111"/>
<circle cx="90.75" cy="342.00" r="1.35" fill="#111"/>
<circle cx="91.25" cy="347.00" r="1.35" fill="#111"/>
<circle cx="88.25" cy="355.00" r="1.35" fill="#111"/>
<circle cx="89.25" cy="364.00" r="1.35" fill="#111"/>
<rect x="96.05" y="395.50" width="6.80" height="12.80" fill="#c8102e"/>
<line x1="99.45" y1="395.50" x2="99.45" y2="390.20" stroke="#2a2a2a" stroke-width="0.75"/>
<line x1="97.58" y1="390.20" x2="101.32" y2="390.20" stroke="#2a2a2a" stroke-width="0.75"/>
<circle cx="97.95" cy="388.00" r="1.35" fill="#111"/>
<circle cx="100.45" cy="387.50" r="1.35" fill="#111"/>
<circle cx="99.45" cy="393.00" r="1.35" fill="#111"/>
<circle cx="97.45" cy="398.00" r="1.35" fill="#111"/>
<circle cx="101.45" cy="399.00" r="1.35" fill="#111"/>
<rect x="112.50" y="356.00" width="6.80" height="52.30" fill="#1c4d8e"/>
<line x1="115.90" y1="356.00" x2="115.90" y2="343.80" stroke="#2a2a2a" stroke-width="0.75"/>
<line x1="114.03" y1="343.80" x2="117.77" y2="343.80" stroke="#2a2a2a" stroke-width="0.75"/>
<circle cx="115.90" cy="336.00" r="1.35" fill="#111"/>
<circle cx="113.90" cy="350.00" r="1.35" fill="#111"/>
<circle cx="115.90" cy="360.00" r="1.35" fill="#111"/>
<circle cx="114.90" cy="372.00" r="1.35" fill="#111"/>
<rect x="122.70" y="384.20" width="6.80" height="24.10" fill="#c8102e"/>
<line x1="126.10" y1="384.20" x2="126.10" y2="377.50" stroke="#2a2a2a" stroke-width="0.75"/>
<line x1="124.23" y1="377.50" x2="127.97" y2="377.50" stroke="#2a2a2a" stroke-width="0.75"/>
<circle cx="126.10" cy="371.50" r="1.35" fill="#111"/>
<circle cx="124.60" cy="383.00" r="1.35" fill="#111"/>
<circle cx="127.10" cy="387.00" r="1.35" fill="#111"/>
<circle cx="126.10" cy="394.00" r="1.35" fill="#111"/>
<circle cx="125.10" cy="400.00" r="1.35" fill="#111"/>
<rect x="139.15" y="352.50" width="6.80" height="55.80" fill="#1c4d8e"/>
<line x1="142.55" y1="352.50" x2="142.55" y2="339.80" stroke="#2a2a2a" stroke-width="0.75"/>
<line x1="140.68" y1="339.80" x2="144.42" y2="339.80" stroke="#2a2a2a" stroke-width="0.75"/>
<circle cx="142.55" cy="335.00" r="1.35" fill="#111"/>
<circle cx="140.55" cy="339.50" r="1.35" fill="#111"/>
<circle cx="144.05" cy="344.50" r="1.35" fill="#111"/>
<circle cx="142.55" cy="350.00" r="1.35" fill="#111"/>
<circle cx="141.55" cy="357.00" r="1.35" fill="#111"/>
<circle cx="143.55" cy="362.00" r="1.35" fill="#111"/>
<rect x="149.35" y="389.00" width="6.80" height="19.30" fill="#c8102e"/>
<line x1="152.75" y1="389.00" x2="152.75" y2="381.00" stroke="#2a2a2a" stroke-width="0.75"/>
<line x1="150.88" y1="381.00" x2="154.62" y2="381.00" stroke="#2a2a2a" stroke-width="0.75"/>
<circle cx="152.75" cy="377.00" r="1.35" fill="#111"/>
<circle cx="152.75" cy="383.00" r="1.35" fill="#111"/>
<circle cx="150.75" cy="391.00" r="1.35" fill="#111"/>
<circle cx="154.25" cy="394.00" r="1.35" fill="#111"/>
<circle cx="152.75" cy="398.00" r="1.35" fill="#111"/>
<rect x="165.80" y="354.00" width="6.80" height="54.30" fill="#1c4d8e"/>
<line x1="169.20" y1="354.00" x2="169.20" y2="342.50" stroke="#2a2a2a" stroke-width="0.75"/>
<line x1="167.33" y1="342.50" x2="171.07" y2="342.50" stroke="#2a2a2a" stroke-width="0.75"/>
<circle cx="169.20" cy="337.00" r="1.35" fill="#111"/>
<circle cx="167.70" cy="340.50" r="1.35" fill="#111"/>
<circle cx="170.70" cy="345.00" r="1.35" fill="#111"/>
<circle cx="171.20" cy="349.00" r="1.35" fill="#111"/>
<circle cx="168.20" cy="358.00" r="1.35" fill="#111"/>
<circle cx="169.20" cy="366.00" r="1.35" fill="#111"/>
<rect x="176.00" y="391.00" width="6.80" height="17.30" fill="#c8102e"/>
<line x1="179.40" y1="391.00" x2="179.40" y2="385.60" stroke="#2a2a2a" stroke-width="0.75"/>
<line x1="177.53" y1="385.60" x2="181.27" y2="385.60" stroke="#2a2a2a" stroke-width="0.75"/>
<circle cx="179.40" cy="378.50" r="1.35" fill="#111"/>
<circle cx="179.40" cy="385.00" r="1.35" fill="#111"/>
<circle cx="177.40" cy="392.00" r="1.35" fill="#111"/>
<circle cx="180.90" cy="394.50" r="1.35" fill="#111"/>
<circle cx="179.40" cy="397.00" r="1.35" fill="#111"/>
<rect x="192.45" y="348.70" width="6.80" height="59.60" fill="#1c4d8e"/>
<line x1="195.85" y1="348.70" x2="195.85" y2="341.20" stroke="#2a2a2a" stroke-width="0.75"/>
<line x1="193.98" y1="341.20" x2="197.72" y2="341.20" stroke="#2a2a2a" stroke-width="0.75"/>
<circle cx="194.35" cy="336.50" r="1.35" fill="#111"/>
<circle cx="197.35" cy="336.50" r="1.35" fill="#111"/>
<circle cx="195.85" cy="344.00" r="1.35" fill="#111"/>
<circle cx="194.85" cy="353.00" r="1.35" fill="#111"/>
<circle cx="196.85" cy="358.00" r="1.35" fill="#111"/>
<rect x="202.65" y="389.00" width="6.80" height="19.30" fill="#c8102e"/>
<line x1="206.05" y1="389.00" x2="206.05" y2="382.90" stroke="#2a2a2a" stroke-width="0.75"/>
<line x1="204.18" y1="382.90" x2="207.92" y2="382.90" stroke="#2a2a2a" stroke-width="0.75"/>
<circle cx="204.55" cy="380.00" r="1.35" fill="#111"/>
<circle cx="207.55" cy="380.00" r="1.35" fill="#111"/>
<circle cx="206.05" cy="388.00" r="1.35" fill="#111"/>
<circle cx="205.05" cy="395.00" r="1.35" fill="#111"/>
<circle cx="207.05" cy="398.00" r="1.35" fill="#111"/>
<rect x="219.10" y="352.50" width="6.80" height="55.80" fill="#1c4d8e"/>
<line x1="222.50" y1="352.50" x2="222.50" y2="345.20" stroke="#2a2a2a" stroke-width="0.75"/>
<line x1="220.63" y1="345.20" x2="224.37" y2="345.20" stroke="#2a2a2a" stroke-width="0.75"/>
<circle cx="221.00" cy="340.00" r="1.35" fill="#111"/>
<circle cx="223.50" cy="339.00" r="1.35" fill="#111"/>
<circle cx="222.50" cy="347.00" r="1.35" fill="#111"/>
<circle cx="221.50" cy="353.00" r="1.35" fill="#111"/>
<circle cx="223.50" cy="357.00" r="1.35" fill="#111"/>
<rect x="229.30" y="391.80" width="6.80" height="16.50" fill="#c8102e"/>
<line x1="232.70" y1="391.80" x2="232.70" y2="388.30" stroke="#2a2a2a" stroke-width="0.75"/>
<line x1="230.83" y1="388.30" x2="234.57" y2="388.30" stroke="#2a2a2a" stroke-width="0.75"/>
<circle cx="231.20" cy="386.00" r="1.35" fill="#111"/>
<circle cx="234.20" cy="384.00" r="1.35" fill="#111"/>
<circle cx="232.70" cy="391.00" r="1.35" fill="#111"/>
<circle cx="231.70" cy="395.00" r="1.35" fill="#111"/>
<circle cx="233.70" cy="397.00" r="1.35" fill="#111"/>
<rect x="245.75" y="364.90" width="6.80" height="43.40" fill="#1c4d8e"/>
<line x1="249.15" y1="364.90" x2="249.15" y2="359.50" stroke="#2a2a2a" stroke-width="0.75"/>
<line x1="247.28" y1="359.50" x2="251.02" y2="359.50" stroke="#2a2a2a" stroke-width="0.75"/>
<circle cx="247.65" cy="357.00" r="1.35" fill="#111"/>
<circle cx="249.15" cy="359.00" r="1.35" fill="#111"/>
<circle cx="250.65" cy="361.50" r="1.35" fill="#111"/>
<circle cx="249.15" cy="370.00" r="1.35" fill="#111"/>
<circle cx="248.15" cy="376.00" r="1.35" fill="#111"/>
<rect x="255.95" y="391.80" width="6.80" height="16.50" fill="#c8102e"/>
<line x1="259.35" y1="391.80" x2="259.35" y2="381.50" stroke="#2a2a2a" stroke-width="0.75"/>
<line x1="257.48" y1="381.50" x2="261.22" y2="381.50" stroke="#2a2a2a" stroke-width="0.75"/>
<circle cx="261.35" cy="373.50" r="1.35" fill="#111"/>
<circle cx="258.35" cy="391.00" r="1.35" fill="#111"/>
<circle cx="260.35" cy="394.00" r="1.35" fill="#111"/>
<circle cx="259.35" cy="398.00" r="1.35" fill="#111"/>
<circle cx="258.35" cy="401.00" r="1.35" fill="#111"/>
<line x1="58.30" y1="323.30" x2="76.00" y2="323.30" stroke="#555" stroke-width="0.7"/>
<text x="57.80" y="321.80" font-size="6.3" textLength="27.70" lengthAdjust="spacingAndGlyphs" stroke="#333" stroke-width="0.22"><tspan font-style="italic">P</tspan> = .0001</text>
<line x1="83.70" y1="333.00" x2="102.80" y2="333.00" stroke="#555" stroke-width="0.7"/>
<text x="79.40" y="331.70" font-size="6.3" textLength="27.60" lengthAdjust="spacingAndGlyphs" stroke="#333" stroke-width="0.22"><tspan font-style="italic">P</tspan> &lt; .0001</text>
<line x1="109.50" y1="323.30" x2="129.00" y2="323.30" stroke="#555" stroke-width="0.7"/>
<text x="108.50" y="321.80" font-size="6.3" textLength="27.10" lengthAdjust="spacingAndGlyphs" stroke="#333" stroke-width="0.22"><tspan font-style="italic">P</tspan> = .0004</text>
<line x1="136.50" y1="333.00" x2="156.00" y2="333.00" stroke="#555" stroke-width="0.7"/>
<text x="132.00" y="331.70" font-size="6.3" textLength="27.00" lengthAdjust="spacingAndGlyphs" stroke="#333" stroke-width="0.22"><tspan font-style="italic">P</tspan> &lt; .0001</text>
<line x1="163.00" y1="324.00" x2="182.50" y2="324.00" stroke="#555" stroke-width="0.7"/>
<text x="160.20" y="322.80" font-size="6.3" textLength="27.70" lengthAdjust="spacingAndGlyphs" stroke="#333" stroke-width="0.22"><tspan font-style="italic">P</tspan> &lt; .0001</text>
<line x1="185.00" y1="333.00" x2="205.00" y2="333.00" stroke="#555" stroke-width="0.7"/>
<text x="180.60" y="331.70" font-size="6.3" textLength="27.40" lengthAdjust="spacingAndGlyphs" stroke="#333" stroke-width="0.22"><tspan font-style="italic">P</tspan> &lt; .0001</text>
<line x1="216.50" y1="324.00" x2="236.00" y2="324.00" stroke="#555" stroke-width="0.7"/>
<text x="213.00" y="322.80" font-size="6.3" textLength="27.40" lengthAdjust="spacingAndGlyphs" stroke="#333" stroke-width="0.22"><tspan font-style="italic">P</tspan> &lt; .0001</text>
<line x1="239.50" y1="333.00" x2="259.00" y2="333.00" stroke="#555" stroke-width="0.7"/>
<text x="235.00" y="331.70" font-size="6.3" textLength="27.50" lengthAdjust="spacingAndGlyphs" stroke="#333" stroke-width="0.22"><tspan font-style="italic">P</tspan> &lt; .0001</text>
<text x="24.60" y="364.20" font-size="8" text-anchor="middle" textLength="94.00" lengthAdjust="spacingAndGlyphs" stroke="#333" stroke-width="0.22" transform="rotate(-90 24.60 364.20)">Ratio of donor cells normalized</text>
<text x="34.00" y="365.50" font-size="8" text-anchor="middle" textLength="87.00" lengthAdjust="spacingAndGlyphs" stroke="#333" stroke-width="0.22" transform="rotate(-90 34.00 365.50)">with % of donor CD150<tspan font-size="70%" baseline-shift="2.4">+</tspan> LSK</text>
<text x="70.70" y="417.20" font-size="6.8" text-anchor="end" textLength="15.92" lengthAdjust="spacingAndGlyphs" stroke="#333" stroke-width="0.22" transform="rotate(-30 70.70 417.20)">LMPP</text>
<text x="92.00" y="420.20" font-size="6.8" text-anchor="middle" textLength="11.38" lengthAdjust="spacingAndGlyphs" stroke="#333" stroke-width="0.22" transform="rotate(-30 92.00 420.20)">CLP</text>
<text x="92.30" y="429.90" font-size="6.8" text-anchor="middle" textLength="19.61" lengthAdjust="spacingAndGlyphs" stroke="#333" stroke-width="0.22" transform="rotate(-30 92.30 429.90)">(Ly6D<tspan font-size="70%" baseline-shift="2.4">–</tspan>)</text>
<text x="124.00" y="417.20" font-size="6.8" text-anchor="end" textLength="11.05" lengthAdjust="spacingAndGlyphs" stroke="#333" stroke-width="0.22" transform="rotate(-30 124.00 417.20)">BLP</text>
<text x="150.65" y="417.20" font-size="6.8" text-anchor="end" textLength="14.30" lengthAdjust="spacingAndGlyphs" stroke="#333" stroke-width="0.22" transform="rotate(-30 150.65 417.20)">pro-B</text>
<text x="168.00" y="421.70" font-size="6.8" text-anchor="middle" textLength="16.90" lengthAdjust="spacingAndGlyphs" stroke="#333" stroke-width="0.22" transform="rotate(-30 168.00 421.70)">CD25-</text>
<text x="168.30" y="431.80" font-size="6.8" text-anchor="middle" textLength="9.22" lengthAdjust="spacingAndGlyphs" stroke="#333" stroke-width="0.22" transform="rotate(-30 168.30 431.80)">Kit<tspan font-size="70%" baseline-shift="2.4">+</tspan></text>
<text x="203.95" y="417.20" font-size="6.8" text-anchor="end" textLength="14.30" lengthAdjust="spacingAndGlyphs" stroke="#333" stroke-width="0.22" transform="rotate(-30 203.95 417.20)">pre-B</text>
<text x="230.60" y="417.20" font-size="6.8" text-anchor="end" textLength="24.70" lengthAdjust="spacingAndGlyphs" stroke="#333" stroke-width="0.22" transform="rotate(-30 230.60 417.20)">Immature</text>
<text x="257.25" y="417.20" font-size="6.8" text-anchor="end" textLength="18.20" lengthAdjust="spacingAndGlyphs" stroke="#333" stroke-width="0.22" transform="rotate(-30 257.25 417.20)">Mature</text>
<rect x="136.00" y="439.60" width="6.20" height="6.20" fill="#1c4d8e"/>
<text x="145.00" y="445.20" font-size="6.8" textLength="11.60" lengthAdjust="spacingAndGlyphs" font-style="italic" stroke="#333" stroke-width="0.22">Ctrl</text>
<rect x="162.50" y="439.60" width="6.20" height="6.20" fill="#c8102e"/>
<text x="171.50" y="445.20" font-size="6.8" textLength="14.80" lengthAdjust="spacingAndGlyphs" font-style="italic" stroke="#333" stroke-width="0.22">DKO</text>
<line x1="365.90" y1="321.00" x2="365.90" y2="407.60" stroke="#222" stroke-width="0.9"/>
<line x1="362.70" y1="323.40" x2="365.90" y2="323.40" stroke="#222" stroke-width="0.8"/>
<text x="359.90" y="325.92" font-size="7" text-anchor="end" fill="#444" stroke="#444" stroke-width="0.22">4</text>
<line x1="362.70" y1="344.60" x2="365.90" y2="344.60" stroke="#222" stroke-width="0.8"/>
<text x="359.90" y="347.12" font-size="7" text-anchor="end" fill="#444" stroke="#444" stroke-width="0.22">3</text>
<line x1="362.70" y1="365.60" x2="365.90" y2="365.60" stroke="#222" stroke-width="0.8"/>
<text x="359.90" y="368.12" font-size="7" text-anchor="end" fill="#444" stroke="#444" stroke-width="0.22">2</text>
<line x1="362.70" y1="386.90" x2="365.90" y2="386.90" stroke="#222" stroke-width="0.8"/>
<text x="359.90" y="389.42" font-size="7" text-anchor="end" fill="#444" stroke="#444" stroke-width="0.22">1</text>
<line x1="362.70" y1="407.60" x2="365.90" y2="407.60" stroke="#222" stroke-width="0.8"/>
<text x="359.90" y="410.12" font-size="7" text-anchor="end" fill="#444" stroke="#444" stroke-width="0.22">0</text>
<line x1="365.90" y1="407.60" x2="469.80" y2="407.60" stroke="#222" stroke-width="0.9"/>
<line x1="377.50" y1="407.60" x2="377.50" y2="409.80" stroke="#222" stroke-width="0.8"/>
<line x1="404.47" y1="407.60" x2="404.47" y2="409.80" stroke="#222" stroke-width="0.8"/>
<line x1="431.44" y1="407.60" x2="431.44" y2="409.80" stroke="#222" stroke-width="0.8"/>
<line x1="458.41" y1="407.60" x2="458.41" y2="409.80" stroke="#222" stroke-width="0.8"/>
<rect x="369.10" y="388.60" width="6.80" height="19.00" fill="#1c4d8e"/>
<line x1="372.50" y1="388.60" x2="372.50" y2="385.50" stroke="#2a2a2a" stroke-width="0.75"/>
<line x1="370.63" y1="385.50" x2="374.37" y2="385.50" stroke="#2a2a2a" stroke-width="0.75"/>
<circle cx="370.50" cy="386.00" r="1.35" fill="#111"/>
<circle cx="372.50" cy="385.00" r="1.35" fill="#111"/>
<circle cx="374.50" cy="386.50" r="1.35" fill="#111"/>
<circle cx="372.50" cy="390.00" r="1.35" fill="#111"/>
<rect x="379.10" y="380.00" width="6.80" height="27.60" fill="#c8102e"/>
<line x1="382.50" y1="380.00" x2="382.50" y2="366.30" stroke="#2a2a2a" stroke-width="0.75"/>
<line x1="380.63" y1="366.30" x2="384.37" y2="366.30" stroke="#2a2a2a" stroke-width="0.75"/>
<circle cx="382.50" cy="353.50" r="1.35" fill="#111"/>
<circle cx="382.50" cy="369.90" r="1.35" fill="#111"/>
<circle cx="380.50" cy="382.00" r="1.35" fill="#111"/>
<circle cx="384.50" cy="384.00" r="1.35" fill="#111"/>
<circle cx="382.50" cy="390.00" r="1.35" fill="#111"/>
<rect x="396.07" y="384.70" width="6.80" height="22.90" fill="#1c4d8e"/>
<line x1="399.47" y1="384.70" x2="399.47" y2="381.00" stroke="#2a2a2a" stroke-width="0.75"/>
<line x1="397.60" y1="381.00" x2="401.34" y2="381.00" stroke="#2a2a2a" stroke-width="0.75"/>
<circle cx="399.47" cy="381.00" r="1.35" fill="#111"/>
<circle cx="397.47" cy="385.00" r="1.35" fill="#111"/>
<circle cx="401.47" cy="385.50" r="1.35" fill="#111"/>
<rect x="406.07" y="379.60" width="6.80" height="28.00" fill="#c8102e"/>
<line x1="409.47" y1="379.60" x2="409.47" y2="369.40" stroke="#2a2a2a" stroke-width="0.75"/>
<line x1="407.60" y1="369.40" x2="411.34" y2="369.40" stroke="#2a2a2a" stroke-width="0.75"/>
<circle cx="409.47" cy="359.30" r="1.35" fill="#111"/>
<circle cx="409.47" cy="373.30" r="1.35" fill="#111"/>
<circle cx="407.47" cy="382.00" r="1.35" fill="#111"/>
<circle cx="411.47" cy="384.50" r="1.35" fill="#111"/>
<rect x="423.04" y="387.60" width="6.80" height="20.00" fill="#1c4d8e"/>
<line x1="426.44" y1="387.60" x2="426.44" y2="384.50" stroke="#2a2a2a" stroke-width="0.75"/>
<line x1="424.57" y1="384.50" x2="428.31" y2="384.50" stroke="#2a2a2a" stroke-width="0.75"/>
<circle cx="428.44" cy="384.00" r="1.35" fill="#111"/>
<circle cx="424.44" cy="386.50" r="1.35" fill="#111"/>
<circle cx="426.44" cy="389.00" r="1.35" fill="#111"/>
<rect x="433.04" y="374.00" width="6.80" height="33.60" fill="#c8102e"/>
<line x1="436.44" y1="374.00" x2="436.44" y2="358.20" stroke="#2a2a2a" stroke-width="0.75"/>
<line x1="434.57" y1="358.20" x2="438.31" y2="358.20" stroke="#2a2a2a" stroke-width="0.75"/>
<circle cx="436.44" cy="342.20" r="1.35" fill="#111"/>
<circle cx="436.44" cy="363.00" r="1.35" fill="#111"/>
<circle cx="434.44" cy="377.00" r="1.35" fill="#111"/>
<circle cx="438.44" cy="379.00" r="1.35" fill="#111"/>
<circle cx="436.44" cy="383.00" r="1.35" fill="#111"/>
<rect x="450.01" y="386.30" width="6.80" height="21.30" fill="#1c4d8e"/>
<line x1="453.41" y1="386.30" x2="453.41" y2="383.50" stroke="#2a2a2a" stroke-width="0.75"/>
<line x1="451.54" y1="383.50" x2="455.28" y2="383.50" stroke="#2a2a2a" stroke-width="0.75"/>
<circle cx="453.41" cy="382.50" r="1.35" fill="#111"/>
<circle cx="451.41" cy="386.50" r="1.35" fill="#111"/>
<circle cx="455.41" cy="386.50" r="1.35" fill="#111"/>
<rect x="460.01" y="368.50" width="6.80" height="39.10" fill="#c8102e"/>
<line x1="463.41" y1="368.50" x2="463.41" y2="349.80" stroke="#2a2a2a" stroke-width="0.75"/>
<line x1="461.54" y1="349.80" x2="465.28" y2="349.80" stroke="#2a2a2a" stroke-width="0.75"/>
<circle cx="463.41" cy="336.00" r="1.35" fill="#111"/>
<circle cx="463.41" cy="350.20" r="1.35" fill="#111"/>
<circle cx="461.41" cy="370.50" r="1.35" fill="#111"/>
<circle cx="465.41" cy="373.00" r="1.35" fill="#111"/>
<circle cx="463.41" cy="378.00" r="1.35" fill="#111"/>
<line x1="368.50" y1="347.80" x2="385.70" y2="347.80" stroke="#555" stroke-width="0.7"/>
<text x="368.00" y="345.80" font-size="6.3" textLength="27.60" lengthAdjust="spacingAndGlyphs" stroke="#333" stroke-width="0.22"><tspan font-style="italic">P</tspan> = .1754</text>
<line x1="395.60" y1="337.80" x2="415.80" y2="337.80" stroke="#555" stroke-width="0.7"/>
<text x="390.80" y="336.70" font-size="6.3" textLength="27.60" lengthAdjust="spacingAndGlyphs" stroke="#333" stroke-width="0.22"><tspan font-style="italic">P</tspan> = .2021</text>
<line x1="420.30" y1="329.20" x2="440.00" y2="329.20" stroke="#555" stroke-width="0.7"/>
<text x="416.40" y="327.90" font-size="6.3" textLength="27.80" lengthAdjust="spacingAndGlyphs" stroke="#333" stroke-width="0.22"><tspan font-style="italic">P</tspan> = .0436</text>
<line x1="448.80" y1="321.00" x2="467.00" y2="321.00" stroke="#555" stroke-width="0.7"/>
<text x="448.40" y="319.40" font-size="6.3" textLength="27.80" lengthAdjust="spacingAndGlyphs" stroke="#333" stroke-width="0.22"><tspan font-style="italic">P</tspan> = .0356</text>
<text x="339.70" y="364.00" font-size="8" text-anchor="middle" textLength="94.00" lengthAdjust="spacingAndGlyphs" stroke="#333" stroke-width="0.22" transform="rotate(-90 339.70 364.00)">Ratio of donor cells normalized</text>
<text x="351.00" y="364.50" font-size="8" text-anchor="middle" textLength="87.00" lengthAdjust="spacingAndGlyphs" stroke="#333" stroke-width="0.22" transform="rotate(-90 351.00 364.50)">with % of donor CD150<tspan font-size="70%" baseline-shift="2.4">+</tspan> LSK</text>
<text x="380.00" y="417.00" font-size="6.8" text-anchor="end" textLength="21.20" lengthAdjust="spacingAndGlyphs" stroke="#333" stroke-width="0.22" transform="rotate(-30 380.00 417.00)">pre-GM</text>
<text x="405.80" y="417.00" font-size="6.8" text-anchor="end" textLength="14.25" lengthAdjust="spacingAndGlyphs" stroke="#333" stroke-width="0.22" transform="rotate(-30 405.80 417.00)">GMP</text>
<text x="431.80" y="417.00" font-size="6.8" text-anchor="end" textLength="25.37" lengthAdjust="spacingAndGlyphs" stroke="#333" stroke-width="0.22" transform="rotate(-30 431.80 417.00)">pre-Mk/E</text>
<text x="459.50" y="417.00" font-size="6.8" text-anchor="end" textLength="12.51" lengthAdjust="spacingAndGlyphs" stroke="#333" stroke-width="0.22" transform="rotate(-30 459.50 417.00)">MkP</text>
<rect x="393.30" y="436.00" width="6.20" height="6.20" fill="#1c4d8e"/>
<text x="402.30" y="441.60" font-size="6.8" textLength="10.50" lengthAdjust="spacingAndGlyphs" font-style="italic" stroke="#333" stroke-width="0.22">Ctrl</text>
<rect x="420.20" y="436.00" width="6.20" height="6.20" fill="#c8102e"/>
<text x="429.20" y="441.60" font-size="6.8" textLength="14.00" lengthAdjust="spacingAndGlyphs" font-style="italic" stroke="#333" stroke-width="0.22">DKO</text>
<line x1="64.20" y1="472.00" x2="64.20" y2="567.30" stroke="#222" stroke-width="0.9"/>
<line x1="61.00" y1="474.20" x2="64.20" y2="474.20" stroke="#222" stroke-width="0.8"/>
<text x="58.20" y="476.72" font-size="7" text-anchor="end" fill="#444" stroke="#444" stroke-width="0.22">40</text>
<line x1="61.00" y1="498.00" x2="64.20" y2="498.00" stroke="#222" stroke-width="0.8"/>
<text x="58.20" y="500.52" font-size="7" text-anchor="end" fill="#444" stroke="#444" stroke-width="0.22">30</text>
<line x1="61.00" y1="521.20" x2="64.20" y2="521.20" stroke="#222" stroke-width="0.8"/>
<text x="58.20" y="523.72" font-size="7" text-anchor="end" fill="#444" stroke="#444" stroke-width="0.22">20</text>
<line x1="61.00" y1="544.20" x2="64.20" y2="544.20" stroke="#222" stroke-width="0.8"/>
<text x="58.20" y="546.72" font-size="7" text-anchor="end" fill="#444" stroke="#444" stroke-width="0.22">10</text>
<line x1="61.00" y1="567.30" x2="64.20" y2="567.30" stroke="#222" stroke-width="0.8"/>
<text x="58.20" y="569.82" font-size="7" text-anchor="end" fill="#444" stroke="#444" stroke-width="0.22">0</text>
<line x1="64.20" y1="567.30" x2="249.60" y2="567.30" stroke="#222" stroke-width="0.9"/>
<line x1="77.00" y1="567.30" x2="77.00" y2="569.50" stroke="#222" stroke-width="0.8"/>
<line x1="104.00" y1="567.30" x2="104.00" y2="569.50" stroke="#222" stroke-width="0.8"/>
<line x1="130.90" y1="567.30" x2="130.90" y2="569.50" stroke="#222" stroke-width="0.8"/>
<line x1="157.50" y1="567.30" x2="157.50" y2="569.50" stroke="#222" stroke-width="0.8"/>
<line x1="184.40" y1="567.30" x2="184.40" y2="569.50" stroke="#222" stroke-width="0.8"/>
<line x1="211.00" y1="567.30" x2="211.00" y2="569.50" stroke="#222" stroke-width="0.8"/>
<line x1="237.90" y1="567.30" x2="237.90" y2="569.50" stroke="#222" stroke-width="0.8"/>
<rect x="69.00" y="495.40" width="6.10" height="71.90" fill="#1c4d8e"/>
<line x1="72.05" y1="495.40" x2="72.05" y2="489.60" stroke="#2a2a2a" stroke-width="0.75"/>
<line x1="70.37" y1="489.60" x2="73.73" y2="489.60" stroke="#2a2a2a" stroke-width="0.75"/>
<circle cx="70.55" cy="489.50" r="1.35" fill="#111"/>
<circle cx="73.85" cy="490.50" r="1.35" fill="#111"/>
<circle cx="72.05" cy="494.00" r="1.35" fill="#111"/>
<circle cx="70.05" cy="500.00" r="1.35" fill="#111"/>
<circle cx="73.55" cy="499.00" r="1.35" fill="#111"/>
<rect x="78.90" y="489.00" width="6.10" height="78.30" fill="#c8102e"/>
<line x1="81.95" y1="489.00" x2="81.95" y2="483.30" stroke="#2a2a2a" stroke-width="0.75"/>
<line x1="80.27" y1="483.30" x2="83.63" y2="483.30" stroke="#2a2a2a" stroke-width="0.75"/>
<circle cx="80.45" cy="484.00" r="1.35" fill="#111"/>
<circle cx="83.45" cy="484.50" r="1.35" fill="#111"/>
<circle cx="81.95" cy="488.00" r="1.35" fill="#111"/>
<circle cx="80.45" cy="494.00" r="1.35" fill="#111"/>
<circle cx="83.45" cy="494.50" r="1.35" fill="#111"/>
<rect x="96.00" y="513.50" width="6.10" height="53.80" fill="#1c4d8e"/>
<line x1="99.05" y1="513.50" x2="99.05" y2="506.30" stroke="#2a2a2a" stroke-width="0.75"/>
<line x1="97.37" y1="506.30" x2="100.73" y2="506.30" stroke="#2a2a2a" stroke-width="0.75"/>
<circle cx="99.05" cy="502.80" r="1.35" fill="#111"/>
<circle cx="97.05" cy="514.00" r="1.35" fill="#111"/>
<circle cx="101.05" cy="513.50" r="1.35" fill="#111"/>
<circle cx="99.05" cy="526.00" r="1.35" fill="#111"/>
<rect x="105.90" y="511.50" width="6.10" height="55.80" fill="#c8102e"/>
<line x1="108.95" y1="511.50" x2="108.95" y2="494.20" stroke="#2a2a2a" stroke-width="0.75"/>
<line x1="107.27" y1="494.20" x2="110.63" y2="494.20" stroke="#2a2a2a" stroke-width="0.75"/>
<circle cx="108.95" cy="483.00" r="1.35" fill="#111"/>
<circle cx="106.95" cy="510.00" r="1.35" fill="#111"/>
<circle cx="110.95" cy="510.50" r="1.35" fill="#111"/>
<circle cx="108.95" cy="521.00" r="1.35" fill="#111"/>
<rect x="122.90" y="518.30" width="6.10" height="49.00" fill="#1c4d8e"/>
<line x1="125.95" y1="518.30" x2="125.95" y2="511.00" stroke="#2a2a2a" stroke-width="0.75"/>
<line x1="124.27" y1="511.00" x2="127.63" y2="511.00" stroke="#2a2a2a" stroke-width="0.75"/>
<circle cx="124.45" cy="512.00" r="1.35" fill="#111"/>
<circle cx="127.75" cy="511.50" r="1.35" fill="#111"/>
<circle cx="125.95" cy="516.00" r="1.35" fill="#111"/>
<circle cx="124.45" cy="525.00" r="1.35" fill="#111"/>
<circle cx="126.95" cy="527.00" r="1.35" fill="#111"/>
<rect x="132.80" y="521.70" width="6.10" height="45.60" fill="#c8102e"/>
<line x1="135.85" y1="521.70" x2="135.85" y2="511.00" stroke="#2a2a2a" stroke-width="0.75"/>
<line x1="134.17" y1="511.00" x2="137.53" y2="511.00" stroke="#2a2a2a" stroke-width="0.75"/>
<circle cx="135.85" cy="512.00" r="1.35" fill="#111"/>
<circle cx="133.85" cy="517.00" r="1.35" fill="#111"/>
<circle cx="137.85" cy="516.50" r="1.35" fill="#111"/>
<circle cx="135.85" cy="527.00" r="1.35" fill="#111"/>
<circle cx="135.85" cy="531.00" r="1.35" fill="#111"/>
<rect x="149.50" y="511.10" width="6.10" height="56.20" fill="#1c4d8e"/>
<line x1="152.55" y1="511.10" x2="152.55" y2="498.80" stroke="#2a2a2a" stroke-width="0.75"/>
<line x1="150.87" y1="498.80" x2="154.23" y2="498.80" stroke="#2a2a2a" stroke-width="0.75"/>
<circle cx="152.55" cy="489.50" r="1.35" fill="#111"/>
<circle cx="151.05" cy="505.50" r="1.35" fill="#111"/>
<circle cx="154.05" cy="507.00" r="1.35" fill="#111"/>
<circle cx="152.55" cy="519.00" r="1.35" fill="#111"/>
<rect x="159.40" y="511.50" width="6.10" height="55.80" fill="#c8102e"/>
<line x1="162.45" y1="511.50" x2="162.45" y2="504.10" stroke="#2a2a2a" stroke-width="0.75"/>
<line x1="160.77" y1="504.10" x2="164.13" y2="504.10" stroke="#2a2a2a" stroke-width="0.75"/>
<circle cx="162.45" cy="500.00" r="1.35" fill="#111"/>
<circle cx="160.45" cy="510.00" r="1.35" fill="#111"/>
<circle cx="164.45" cy="510.50" r="1.35" fill="#111"/>
<rect x="176.40" y="533.80" width="6.10" height="33.50" fill="#1c4d8e"/>
<line x1="179.45" y1="533.80" x2="179.45" y2="529.50" stroke="#2a2a2a" stroke-width="0.75"/>
<line x1="177.77" y1="529.50" x2="181.13" y2="529.50" stroke="#2a2a2a" stroke-width="0.75"/>
<circle cx="179.45" cy="526.50" r="1.35" fill="#111"/>
<circle cx="177.45" cy="530.00" r="1.35" fill="#111"/>
<circle cx="181.45" cy="530.50" r="1.35" fill="#111"/>
<circle cx="179.45" cy="535.00" r="1.35" fill="#111"/>
<rect x="186.30" y="530.60" width="6.10" height="36.70" fill="#c8102e"/>
<line x1="189.35" y1="530.60" x2="189.35" y2="527.50" stroke="#2a2a2a" stroke-width="0.75"/>
<line x1="187.67" y1="527.50" x2="191.03" y2="527.50" stroke="#2a2a2a" stroke-width="0.75"/>
<circle cx="187.35" cy="529.50" r="1.35" fill="#111"/>
<circle cx="189.35" cy="530.00" r="1.35" fill="#111"/>
<circle cx="191.35" cy="529.50" r="1.35" fill="#111"/>
<rect x="203.00" y="522.50" width="6.10" height="44.80" fill="#1c4d8e"/>
<line x1="206.05" y1="522.50" x2="206.05" y2="514.70" stroke="#2a2a2a" stroke-width="0.75"/>
<line x1="204.37" y1="514.70" x2="207.73" y2="514.70" stroke="#2a2a2a" stroke-width="0.75"/>
<circle cx="204.55" cy="512.00" r="1.35" fill="#111"/>
<circle cx="207.55" cy="512.50" r="1.35" fill="#111"/>
<circle cx="206.05" cy="518.00" r="1.35" fill="#111"/>
<circle cx="206.05" cy="528.00" r="1.35" fill="#111"/>
<rect x="212.90" y="533.80" width="6.10" height="33.50" fill="#c8102e"/>
<line x1="215.95" y1="533.80" x2="215.95" y2="527.40" stroke="#2a2a2a" stroke-width="0.75"/>
<line x1="214.27" y1="527.40" x2="217.63" y2="527.40" stroke="#2a2a2a" stroke-width="0.75"/>
<circle cx="214.45" cy="526.50" r="1.35" fill="#111"/>
<circle cx="217.45" cy="526.50" r="1.35" fill="#111"/>
<circle cx="215.95" cy="529.00" r="1.35" fill="#111"/>
<circle cx="215.95" cy="539.00" r="1.35" fill="#111"/>
<rect x="229.90" y="545.40" width="6.10" height="21.90" fill="#1c4d8e"/>
<line x1="232.95" y1="545.40" x2="232.95" y2="538.00" stroke="#2a2a2a" stroke-width="0.75"/>
<line x1="231.27" y1="538.00" x2="234.63" y2="538.00" stroke="#2a2a2a" stroke-width="0.75"/>
<circle cx="232.95" cy="535.20" r="1.35" fill="#111"/>
<circle cx="230.95" cy="537.50" r="1.35" fill="#111"/>
<circle cx="234.95" cy="538.50" r="1.35" fill="#111"/>
<circle cx="232.95" cy="545.00" r="1.35" fill="#111"/>
<circle cx="232.95" cy="552.00" r="1.35" fill="#111"/>
<rect x="239.80" y="528.00" width="6.10" height="39.30" fill="#c8102e"/>
<line x1="242.85" y1="528.00" x2="242.85" y2="510.00" stroke="#2a2a2a" stroke-width="0.75"/>
<line x1="241.17" y1="510.00" x2="244.53" y2="510.00" stroke="#2a2a2a" stroke-width="0.75"/>
<circle cx="242.85" cy="501.40" r="1.35" fill="#111"/>
<circle cx="242.85" cy="519.00" r="1.35" fill="#111"/>
<circle cx="242.85" cy="529.00" r="1.35" fill="#111"/>
<circle cx="242.85" cy="537.00" r="1.35" fill="#111"/>
<line x1="68.00" y1="476.20" x2="85.40" y2="476.20" stroke="#555" stroke-width="0.7"/>
<text x="75.80" y="474.70" font-size="6.5" text-anchor="middle" textLength="6.40" lengthAdjust="spacingAndGlyphs" stroke="#333" stroke-width="0.22">ns</text>
<line x1="94.60" y1="476.20" x2="111.50" y2="476.20" stroke="#555" stroke-width="0.7"/>
<text x="101.90" y="474.70" font-size="6.5" text-anchor="middle" textLength="6.40" lengthAdjust="spacingAndGlyphs" stroke="#333" stroke-width="0.22">ns</text>
<line x1="122.00" y1="501.90" x2="139.50" y2="501.90" stroke="#555" stroke-width="0.7"/>
<text x="130.80" y="500.00" font-size="6.5" text-anchor="middle" textLength="6.40" lengthAdjust="spacingAndGlyphs" stroke="#333" stroke-width="0.22">ns</text>
<line x1="148.00" y1="486.20" x2="165.00" y2="486.20" stroke="#555" stroke-width="0.7"/>
<text x="156.50" y="483.50" font-size="6.5" text-anchor="middle" textLength="6.40" lengthAdjust="spacingAndGlyphs" stroke="#333" stroke-width="0.22">ns</text>
<line x1="176.00" y1="521.70" x2="193.30" y2="521.70" stroke="#555" stroke-width="0.7"/>
<text x="184.50" y="519.50" font-size="6.5" text-anchor="middle" textLength="6.40" lengthAdjust="spacingAndGlyphs" stroke="#333" stroke-width="0.22">ns</text>
<line x1="202.50" y1="506.30" x2="219.50" y2="506.30" stroke="#555" stroke-width="0.7"/>
<text x="211.00" y="504.70" font-size="6.5" text-anchor="middle" textLength="6.40" lengthAdjust="spacingAndGlyphs" stroke="#333" stroke-width="0.22">ns</text>
<line x1="230.50" y1="495.70" x2="247.50" y2="495.70" stroke="#555" stroke-width="0.7"/>
<text x="239.00" y="493.40" font-size="6.5" text-anchor="middle" textLength="6.40" lengthAdjust="spacingAndGlyphs" stroke="#333" stroke-width="0.22">ns</text>
<text x="46.10" y="520.00" font-size="8" text-anchor="middle" textLength="51.00" lengthAdjust="spacingAndGlyphs" stroke="#333" stroke-width="0.22" transform="rotate(-90 46.10 520.00)">% of BrdU<tspan font-size="70%" baseline-shift="2.4">+</tspan> cells</text>
<text x="79.40" y="577.80" font-size="7" text-anchor="end" textLength="34.09" lengthAdjust="spacingAndGlyphs" stroke="#333" stroke-width="0.22" transform="rotate(-30 79.40 577.80)">CD150<tspan font-size="70%" baseline-shift="2.4">+</tspan>LSK</text>
<text x="106.40" y="577.80" font-size="7" text-anchor="end" textLength="33.97" lengthAdjust="spacingAndGlyphs" stroke="#333" stroke-width="0.22" transform="rotate(-30 106.40 577.80)">CD150<tspan font-size="70%" baseline-shift="2.4">–</tspan>LSK</text>
<text x="133.30" y="577.80" font-size="7" text-anchor="end" textLength="26.73" lengthAdjust="spacingAndGlyphs" stroke="#333" stroke-width="0.22" transform="rotate(-30 133.30 577.80)">Flt3<tspan font-size="70%" baseline-shift="2.4">+</tspan>MPP</text>
<text x="159.90" y="577.80" font-size="7" text-anchor="end" textLength="12.26" lengthAdjust="spacingAndGlyphs" stroke="#333" stroke-width="0.22" transform="rotate(-30 159.90 577.80)">CLP</text>
<text x="186.80" y="577.80" font-size="7" text-anchor="end" textLength="14.00" lengthAdjust="spacingAndGlyphs" stroke="#333" stroke-width="0.22" transform="rotate(-30 186.80 577.80)">CMP</text>
<text x="213.40" y="577.80" font-size="7" text-anchor="end" textLength="14.35" lengthAdjust="spacingAndGlyphs" stroke="#333" stroke-width="0.22" transform="rotate(-30 213.40 577.80)">GMP</text>
<text x="240.30" y="577.80" font-size="7" text-anchor="end" textLength="13.65" lengthAdjust="spacingAndGlyphs" stroke="#333" stroke-width="0.22" transform="rotate(-30 240.30 577.80)">MEP</text>
<rect x="132.30" y="599.30" width="6.20" height="6.20" fill="#1c4d8e"/>
<text x="141.30" y="604.90" font-size="6.8" textLength="10.80" lengthAdjust="spacingAndGlyphs" font-style="italic" stroke="#333" stroke-width="0.22">Ctrl</text>
<rect x="160.00" y="599.30" width="6.20" height="6.20" fill="#c8102e"/>
<text x="169.00" y="604.90" font-size="6.8" textLength="14.40" lengthAdjust="spacingAndGlyphs" font-style="italic" stroke="#333" stroke-width="0.22">DKO</text>
<line x1="327.30" y1="470.00" x2="327.30" y2="566.00" stroke="#222" stroke-width="0.9"/>
<line x1="324.10" y1="471.90" x2="327.30" y2="471.90" stroke="#222" stroke-width="0.8"/>
<text x="321.30" y="474.42" font-size="7" text-anchor="end" fill="#444" stroke="#444" stroke-width="0.22">50</text>
<line x1="324.10" y1="490.90" x2="327.30" y2="490.90" stroke="#222" stroke-width="0.8"/>
<text x="321.30" y="493.42" font-size="7" text-anchor="end" fill="#444" stroke="#444" stroke-width="0.22">40</text>
<line x1="324.10" y1="509.70" x2="327.30" y2="509.70" stroke="#222" stroke-width="0.8"/>
<text x="321.30" y="512.22" font-size="7" text-anchor="end" fill="#444" stroke="#444" stroke-width="0.22">30</text>
<line x1="324.10" y1="528.40" x2="327.30" y2="528.40" stroke="#222" stroke-width="0.8"/>
<text x="321.30" y="530.92" font-size="7" text-anchor="end" fill="#444" stroke="#444" stroke-width="0.22">20</text>
<line x1="324.10" y1="546.90" x2="327.30" y2="546.90" stroke="#222" stroke-width="0.8"/>
<text x="321.30" y="549.42" font-size="7" text-anchor="end" fill="#444" stroke="#444" stroke-width="0.22">10</text>
<line x1="324.10" y1="566.00" x2="327.30" y2="566.00" stroke="#222" stroke-width="0.8"/>
<text x="321.30" y="568.52" font-size="7" text-anchor="end" fill="#444" stroke="#444" stroke-width="0.22">0</text>
<line x1="327.30" y1="566.00" x2="514.00" y2="566.00" stroke="#222" stroke-width="0.9"/>
<line x1="339.40" y1="566.00" x2="339.40" y2="568.20" stroke="#222" stroke-width="0.8"/>
<line x1="366.20" y1="566.00" x2="366.20" y2="568.20" stroke="#222" stroke-width="0.8"/>
<line x1="393.20" y1="566.00" x2="393.20" y2="568.20" stroke="#222" stroke-width="0.8"/>
<line x1="420.60" y1="566.00" x2="420.60" y2="568.20" stroke="#222" stroke-width="0.8"/>
<line x1="447.50" y1="566.00" x2="447.50" y2="568.20" stroke="#222" stroke-width="0.8"/>
<line x1="474.50" y1="566.00" x2="474.50" y2="568.20" stroke="#222" stroke-width="0.8"/>
<line x1="501.60" y1="566.00" x2="501.60" y2="568.20" stroke="#222" stroke-width="0.8"/>
<rect x="331.20" y="553.30" width="6.40" height="12.70" fill="#1c4d8e"/>
<line x1="334.40" y1="553.30" x2="334.40" y2="549.00" stroke="#2a2a2a" stroke-width="0.75"/>
<line x1="332.64" y1="549.00" x2="336.16" y2="549.00" stroke="#2a2a2a" stroke-width="0.75"/>
<circle cx="332.90" cy="547.50" r="1.35" fill="#111"/>
<circle cx="336.20" cy="549.00" r="1.35" fill="#111"/>
<circle cx="334.40" cy="552.00" r="1.35" fill="#111"/>
<circle cx="334.40" cy="557.00" r="1.35" fill="#111"/>
<rect x="341.20" y="557.70" width="6.40" height="8.30" fill="#c8102e"/>
<line x1="344.40" y1="557.70" x2="344.40" y2="555.00" stroke="#2a2a2a" stroke-width="0.75"/>
<line x1="342.64" y1="555.00" x2="346.16" y2="555.00" stroke="#2a2a2a" stroke-width="0.75"/>
<circle cx="344.40" cy="554.00" r="1.35" fill="#111"/>
<circle cx="342.90" cy="557.00" r="1.35" fill="#111"/>
<circle cx="345.90" cy="557.50" r="1.35" fill="#111"/>
<circle cx="344.40" cy="561.00" r="1.35" fill="#111"/>
<rect x="358.00" y="554.60" width="6.40" height="11.40" fill="#1c4d8e"/>
<line x1="361.20" y1="554.60" x2="361.20" y2="549.50" stroke="#2a2a2a" stroke-width="0.75"/>
<line x1="359.44" y1="549.50" x2="362.96" y2="549.50" stroke="#2a2a2a" stroke-width="0.75"/>
<circle cx="359.70" cy="549.00" r="1.35" fill="#111"/>
<circle cx="362.70" cy="547.50" r="1.35" fill="#111"/>
<circle cx="361.20" cy="553.00" r="1.35" fill="#111"/>
<circle cx="361.20" cy="558.00" r="1.35" fill="#111"/>
<rect x="368.00" y="550.80" width="6.40" height="15.20" fill="#c8102e"/>
<line x1="371.20" y1="550.80" x2="371.20" y2="545.50" stroke="#2a2a2a" stroke-width="0.75"/>
<line x1="369.44" y1="545.50" x2="372.96" y2="545.50" stroke="#2a2a2a" stroke-width="0.75"/>
<circle cx="371.20" cy="542.50" r="1.35" fill="#111"/>
<circle cx="369.70" cy="549.00" r="1.35" fill="#111"/>
<circle cx="372.70" cy="548.00" r="1.35" fill="#111"/>
<circle cx="371.20" cy="553.00" r="1.35" fill="#111"/>
<circle cx="371.20" cy="557.00" r="1.35" fill="#111"/>
<rect x="385.00" y="564.50" width="6.40" height="1.50" fill="#1c4d8e"/>
<line x1="388.20" y1="564.50" x2="388.20" y2="563.00" stroke="#2a2a2a" stroke-width="0.75"/>
<line x1="386.44" y1="563.00" x2="389.96" y2="563.00" stroke="#2a2a2a" stroke-width="0.75"/>
<circle cx="386.70" cy="563.50" r="1.35" fill="#111"/>
<circle cx="388.20" cy="564.00" r="1.35" fill="#111"/>
<circle cx="389.70" cy="564.50" r="1.35" fill="#111"/>
<rect x="395.00" y="565.00" width="6.40" height="1.00" fill="#c8102e"/>
<line x1="398.20" y1="565.00" x2="398.20" y2="560.00" stroke="#2a2a2a" stroke-width="0.75"/>
<line x1="396.44" y1="560.00" x2="399.96" y2="560.00" stroke="#2a2a2a" stroke-width="0.75"/>
<circle cx="398.20" cy="557.50" r="1.35" fill="#111"/>
<circle cx="396.70" cy="564.50" r="1.35" fill="#111"/>
<circle cx="399.70" cy="564.50" r="1.35" fill="#111"/>
<rect x="412.40" y="562.70" width="6.40" height="3.30" fill="#1c4d8e"/>
<line x1="415.60" y1="562.70" x2="415.60" y2="559.50" stroke="#2a2a2a" stroke-width="0.75"/>
<line x1="413.84" y1="559.50" x2="417.36" y2="559.50" stroke="#2a2a2a" stroke-width="0.75"/>
<circle cx="415.60" cy="557.00" r="1.35" fill="#111"/>
<circle cx="413.60" cy="563.00" r="1.35" fill="#111"/>
<circle cx="415.60" cy="562.00" r="1.35" fill="#111"/>
<circle cx="417.60" cy="563.50" r="1.35" fill="#111"/>
<rect x="422.40" y="564.60" width="6.40" height="1.40" fill="#c8102e"/>
<line x1="425.60" y1="564.60" x2="425.60" y2="563.00" stroke="#2a2a2a" stroke-width="0.75"/>
<line x1="423.84" y1="563.00" x2="427.36" y2="563.00" stroke="#2a2a2a" stroke-width="0.75"/>
<circle cx="425.60" cy="561.50" r="1.35" fill="#111"/>
<circle cx="424.10" cy="564.50" r="1.35" fill="#111"/>
<circle cx="427.10" cy="564.50" r="1.35" fill="#111"/>
<rect x="439.30" y="548.60" width="6.40" height="17.40" fill="#1c4d8e"/>
<line x1="442.50" y1="548.60" x2="442.50" y2="539.50" stroke="#2a2a2a" stroke-width="0.75"/>
<line x1="440.74" y1="539.50" x2="444.26" y2="539.50" stroke="#2a2a2a" stroke-width="0.75"/>
<circle cx="442.50" cy="540.50" r="1.35" fill="#111"/>
<circle cx="440.50" cy="543.50" r="1.35" fill="#111"/>
<circle cx="444.50" cy="544.00" r="1.35" fill="#111"/>
<circle cx="442.50" cy="548.00" r="1.35" fill="#111"/>
<circle cx="442.50" cy="554.00" r="1.35" fill="#111"/>
<rect x="449.30" y="544.80" width="6.40" height="21.20" fill="#c8102e"/>
<line x1="452.50" y1="544.80" x2="452.50" y2="535.90" stroke="#2a2a2a" stroke-width="0.75"/>
<line x1="450.74" y1="535.90" x2="454.26" y2="535.90" stroke="#2a2a2a" stroke-width="0.75"/>
<circle cx="452.50" cy="532.00" r="1.35" fill="#111"/>
<circle cx="451.00" cy="539.00" r="1.35" fill="#111"/>
<circle cx="454.00" cy="540.50" r="1.35" fill="#111"/>
<circle cx="452.50" cy="545.00" r="1.35" fill="#111"/>
<circle cx="452.50" cy="552.00" r="1.35" fill="#111"/>
<rect x="466.30" y="550.00" width="6.40" height="16.00" fill="#1c4d8e"/>
<line x1="469.50" y1="550.00" x2="469.50" y2="543.30" stroke="#2a2a2a" stroke-width="0.75"/>
<line x1="467.74" y1="543.30" x2="471.26" y2="543.30" stroke="#2a2a2a" stroke-width="0.75"/>
<circle cx="468.00" cy="542.50" r="1.35" fill="#111"/>
<circle cx="471.00" cy="541.50" r="1.35" fill="#111"/>
<circle cx="469.50" cy="548.00" r="1.35" fill="#111"/>
<circle cx="469.50" cy="556.00" r="1.35" fill="#111"/>
<rect x="476.30" y="553.90" width="6.40" height="12.10" fill="#c8102e"/>
<line x1="479.50" y1="553.90" x2="479.50" y2="546.40" stroke="#2a2a2a" stroke-width="0.75"/>
<line x1="477.74" y1="546.40" x2="481.26" y2="546.40" stroke="#2a2a2a" stroke-width="0.75"/>
<circle cx="478.00" cy="540.50" r="1.35" fill="#111"/>
<circle cx="481.00" cy="541.50" r="1.35" fill="#111"/>
<circle cx="479.50" cy="546.00" r="1.35" fill="#111"/>
<circle cx="479.50" cy="554.00" r="1.35" fill="#111"/>
<rect x="493.40" y="535.20" width="6.40" height="30.80" fill="#1c4d8e"/>
<line x1="496.60" y1="535.20" x2="496.60" y2="521.00" stroke="#2a2a2a" stroke-width="0.75"/>
<line x1="494.84" y1="521.00" x2="498.36" y2="521.00" stroke="#2a2a2a" stroke-width="0.75"/>
<circle cx="495.10" cy="514.50" r="1.35" fill="#111"/>
<circle cx="498.10" cy="515.50" r="1.35" fill="#111"/>
<circle cx="496.60" cy="533.00" r="1.35" fill="#111"/>
<circle cx="495.10" cy="536.00" r="1.35" fill="#111"/>
<circle cx="496.60" cy="545.00" r="1.35" fill="#111"/>
<rect x="503.40" y="524.20" width="6.40" height="41.80" fill="#c8102e"/>
<line x1="506.60" y1="524.20" x2="506.60" y2="501.00" stroke="#2a2a2a" stroke-width="0.75"/>
<line x1="504.84" y1="501.00" x2="508.36" y2="501.00" stroke="#2a2a2a" stroke-width="0.75"/>
<circle cx="506.60" cy="491.50" r="1.35" fill="#111"/>
<circle cx="506.60" cy="495.50" r="1.35" fill="#111"/>
<circle cx="505.10" cy="515.00" r="1.35" fill="#111"/>
<circle cx="508.10" cy="516.50" r="1.35" fill="#111"/>
<circle cx="506.60" cy="520.00" r="1.35" fill="#111"/>
<circle cx="506.60" cy="541.00" r="1.35" fill="#111"/>
<circle cx="506.60" cy="552.00" r="1.35" fill="#111"/>
<line x1="330.60" y1="530.20" x2="348.50" y2="530.20" stroke="#555" stroke-width="0.7"/>
<text x="338.80" y="528.30" font-size="6.5" text-anchor="middle" textLength="6.40" lengthAdjust="spacingAndGlyphs" stroke="#333" stroke-width="0.22">ns</text>
<line x1="358.00" y1="527.70" x2="374.80" y2="527.70" stroke="#555" stroke-width="0.7"/>
<text x="365.20" y="525.80" font-size="6.5" text-anchor="middle" textLength="6.40" lengthAdjust="spacingAndGlyphs" stroke="#333" stroke-width="0.22">ns</text>
<line x1="384.40" y1="547.50" x2="400.40" y2="547.50" stroke="#555" stroke-width="0.7"/>
<text x="392.20" y="546.20" font-size="6.5" text-anchor="middle" textLength="6.40" lengthAdjust="spacingAndGlyphs" stroke="#333" stroke-width="0.22">ns</text>
<line x1="409.70" y1="545.00" x2="426.60" y2="545.00" stroke="#555" stroke-width="0.7"/>
<text x="418.00" y="543.20" font-size="6.5" text-anchor="middle" textLength="6.40" lengthAdjust="spacingAndGlyphs" stroke="#333" stroke-width="0.22">ns</text>
<line x1="438.40" y1="525.30" x2="455.30" y2="525.30" stroke="#555" stroke-width="0.7"/>
<text x="446.50" y="523.70" font-size="6.5" text-anchor="middle" textLength="6.40" lengthAdjust="spacingAndGlyphs" stroke="#333" stroke-width="0.22">ns</text>
<line x1="465.30" y1="533.10" x2="482.20" y2="533.10" stroke="#555" stroke-width="0.7"/>
<text x="473.50" y="530.50" font-size="6.5" text-anchor="middle" textLength="6.40" lengthAdjust="spacingAndGlyphs" stroke="#333" stroke-width="0.22">ns</text>
<line x1="491.30" y1="485.10" x2="508.20" y2="485.10" stroke="#555" stroke-width="0.7"/>
<text x="499.50" y="482.90" font-size="6.5" text-anchor="middle" textLength="6.40" lengthAdjust="spacingAndGlyphs" stroke="#333" stroke-width="0.22">ns</text>
<text x="307.20" y="517.00" font-size="8" text-anchor="middle" textLength="63.00" lengthAdjust="spacingAndGlyphs" stroke="#333" stroke-width="0.22" transform="rotate(-90 307.20 517.00)">% of annexinV<tspan font-size="70%" baseline-shift="2.4">+</tspan> cells</text>
<text x="341.80" y="577.30" font-size="7" text-anchor="end" textLength="34.09" lengthAdjust="spacingAndGlyphs" stroke="#333" stroke-width="0.22" transform="rotate(-30 341.80 577.30)">CD150<tspan font-size="70%" baseline-shift="2.4">+</tspan>LSK</text>
<text x="368.60" y="577.30" font-size="7" text-anchor="end" textLength="33.97" lengthAdjust="spacingAndGlyphs" stroke="#333" stroke-width="0.22" transform="rotate(-30 368.60 577.30)">CD150<tspan font-size="70%" baseline-shift="2.4">–</tspan>LSK</text>
<text x="395.60" y="577.30" font-size="7" text-anchor="end" textLength="26.73" lengthAdjust="spacingAndGlyphs" stroke="#333" stroke-width="0.22" transform="rotate(-30 395.60 577.30)">Flt3<tspan font-size="70%" baseline-shift="2.4">+</tspan>MPP</text>
<text x="423.00" y="577.30" font-size="7" text-anchor="end" textLength="12.26" lengthAdjust="spacingAndGlyphs" stroke="#333" stroke-width="0.22" transform="rotate(-30 423.00 577.30)">CLP</text>
<text x="449.90" y="577.30" font-size="7" text-anchor="end" textLength="14.00" lengthAdjust="spacingAndGlyphs" stroke="#333" stroke-width="0.22" transform="rotate(-30 449.90 577.30)">CMP</text>
<text x="476.90" y="577.30" font-size="7" text-anchor="end" textLength="14.35" lengthAdjust="spacingAndGlyphs" stroke="#333" stroke-width="0.22" transform="rotate(-30 476.90 577.30)">GMP</text>
<text x="504.00" y="577.30" font-size="7" text-anchor="end" textLength="13.65" lengthAdjust="spacingAndGlyphs" stroke="#333" stroke-width="0.22" transform="rotate(-30 504.00 577.30)">MEP</text>
<rect x="395.50" y="597.00" width="6.20" height="6.20" fill="#1c4d8e"/>
<text x="404.50" y="602.60" font-size="6.8" textLength="10.50" lengthAdjust="spacingAndGlyphs" font-style="italic" stroke="#333" stroke-width="0.22">Ctrl</text>
<rect x="421.30" y="597.00" width="6.20" height="6.20" fill="#c8102e"/>
<text x="430.30" y="602.60" font-size="6.8" textLength="14.50" lengthAdjust="spacingAndGlyphs" font-style="italic" stroke="#333" stroke-width="0.22">DKO</text>
<rect x="0.5" y="0.5" width="519" height="612" fill="none" stroke="#555" stroke-width="1.2"/>
</svg></body></html>
